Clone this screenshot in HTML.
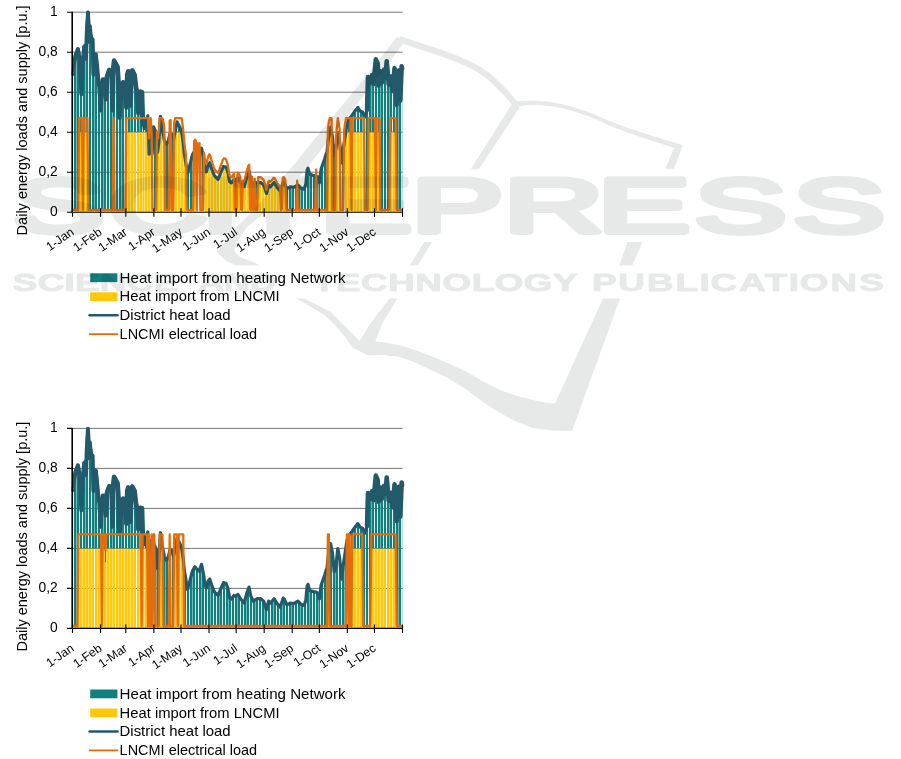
<!DOCTYPE html>
<html lang="en"><head><meta charset="utf-8"><title>Daily energy loads and supply</title>
<style>html,body{margin:0;padding:0;background:#fff}svg{display:block}text{font-family:"Liberation Sans",sans-serif;fill:#000}</style></head><body>
<svg width="901" height="759" viewBox="0 0 901 759">
<rect width="901" height="759" fill="#fff"/>
<defs><clipPath id="stripes"><path d="M72.5 0h0.56v759h-0.56zM73.94 0h2.36v759h-2.36zM76.72 0h2.34v759h-2.34zM79.94 0h2.12v759h-2.12zM82.94 0h2.36v759h-2.36zM85.72 0h2.34v759h-2.34zM88.94 0h2.12v759h-2.12zM91.94 0h2.36v759h-2.36zM94.72 0h2.34v759h-2.34zM97.94 0h2.12v759h-2.12zM100.94 0h2.36v759h-2.36zM103.72 0h2.34v759h-2.34zM106.94 0h2.12v759h-2.12zM109.94 0h2.36v759h-2.36zM112.72 0h2.34v759h-2.34zM115.94 0h2.12v759h-2.12zM118.94 0h2.36v759h-2.36zM121.72 0h2.34v759h-2.34zM124.94 0h2.12v759h-2.12zM127.94 0h2.36v759h-2.36zM130.72 0h2.34v759h-2.34zM133.94 0h2.12v759h-2.12zM136.94 0h2.36v759h-2.36zM139.72 0h2.34v759h-2.34zM142.94 0h1.12v759h-1.12zM144.94 0h2.36v759h-2.36zM147.72 0h2.34v759h-2.34zM150.94 0h2.12v759h-2.12zM153.94 0h2.36v759h-2.36zM156.72 0h2.34v759h-2.34zM159.94 0h2.12v759h-2.12zM162.94 0h2.36v759h-2.36zM165.72 0h2.34v759h-2.34zM168.94 0h2.12v759h-2.12zM171.94 0h2.36v759h-2.36zM174.72 0h2.34v759h-2.34zM177.94 0h2.12v759h-2.12zM180.94 0h2.36v759h-2.36zM183.72 0h2.34v759h-2.34zM186.94 0h2.12v759h-2.12zM189.94 0h2.36v759h-2.36zM192.72 0h2.34v759h-2.34zM195.94 0h2.12v759h-2.12zM198.94 0h2.36v759h-2.36zM201.72 0h2.34v759h-2.34zM204.94 0h2.12v759h-2.12zM207.94 0h2.36v759h-2.36zM210.72 0h2.34v759h-2.34zM213.94 0h2.12v759h-2.12zM216.94 0h2.36v759h-2.36zM219.72 0h2.34v759h-2.34zM222.94 0h2.12v759h-2.12zM225.94 0h2.36v759h-2.36zM228.72 0h2.34v759h-2.34zM231.94 0h2.12v759h-2.12zM234.94 0h2.36v759h-2.36zM237.72 0h2.34v759h-2.34zM240.94 0h2.12v759h-2.12zM243.94 0h2.36v759h-2.36zM246.72 0h2.34v759h-2.34zM249.94 0h2.12v759h-2.12zM252.94 0h2.36v759h-2.36zM255.72 0h2.34v759h-2.34zM258.94 0h2.12v759h-2.12zM261.94 0h2.36v759h-2.36zM264.72 0h2.34v759h-2.34zM267.94 0h2.12v759h-2.12zM270.94 0h2.36v759h-2.36zM273.72 0h2.34v759h-2.34zM276.94 0h2.12v759h-2.12zM279.94 0h2.36v759h-2.36zM282.72 0h2.34v759h-2.34zM285.94 0h2.12v759h-2.12zM288.94 0h2.36v759h-2.36zM291.72 0h2.34v759h-2.34zM294.94 0h2.12v759h-2.12zM297.94 0h2.36v759h-2.36zM300.72 0h2.34v759h-2.34zM303.94 0h2.12v759h-2.12zM306.94 0h2.36v759h-2.36zM309.72 0h2.34v759h-2.34zM312.94 0h2.12v759h-2.12zM315.94 0h2.36v759h-2.36zM318.72 0h1.34v759h-1.34zM320.94 0h2.12v759h-2.12zM323.94 0h2.36v759h-2.36zM326.72 0h2.34v759h-2.34zM329.94 0h2.12v759h-2.12zM332.94 0h2.36v759h-2.36zM335.72 0h2.34v759h-2.34zM338.94 0h2.12v759h-2.12zM341.94 0h2.36v759h-2.36zM344.72 0h2.34v759h-2.34zM347.94 0h2.12v759h-2.12zM350.94 0h2.36v759h-2.36zM353.72 0h2.34v759h-2.34zM356.94 0h2.12v759h-2.12zM359.94 0h2.36v759h-2.36zM362.72 0h2.34v759h-2.34zM365.94 0h2.12v759h-2.12zM368.94 0h2.36v759h-2.36zM371.72 0h2.34v759h-2.34zM374.94 0h2.12v759h-2.12zM377.94 0h2.36v759h-2.36zM380.72 0h2.34v759h-2.34zM383.94 0h2.12v759h-2.12zM386.94 0h2.36v759h-2.36zM389.72 0h2.34v759h-2.34zM392.94 0h2.12v759h-2.12zM395.94 0h2.36v759h-2.36zM398.72 0h2.34v759h-2.34zM401.94 0h0.56v759h-0.56z"/></clipPath><clipPath id="stripesY"><path d="M72.5 0h0.5v759h-0.5zM74 0h2.3v759h-2.3zM76.72 0h2.58v759h-2.58zM79.72 0h2.58v759h-2.58zM82.72 0h2.58v759h-2.58zM85.72 0h2.58v759h-2.58zM88.72 0h2.58v759h-2.58zM91.72 0h2.28v759h-2.28zM95 0h2.3v759h-2.3zM97.72 0h2.58v759h-2.58zM100.72 0h2.58v759h-2.58zM103.72 0h2.58v759h-2.58zM106.72 0h2.58v759h-2.58zM109.72 0h2.58v759h-2.58zM112.72 0h2.28v759h-2.28zM116 0h2.3v759h-2.3zM118.72 0h2.58v759h-2.58zM121.72 0h2.58v759h-2.58zM124.72 0h2.58v759h-2.58zM127.72 0h2.58v759h-2.58zM130.72 0h2.58v759h-2.58zM133.72 0h2.28v759h-2.28zM137 0h2.3v759h-2.3zM139.72 0h2.58v759h-2.58zM142.72 0h1.58v759h-1.58zM144.72 0h2.58v759h-2.58zM147.72 0h2.58v759h-2.58zM150.72 0h2.58v759h-2.58zM153.72 0h2.28v759h-2.28zM157 0h2.3v759h-2.3zM159.72 0h2.58v759h-2.58zM162.72 0h2.58v759h-2.58zM165.72 0h2.58v759h-2.58zM168.72 0h2.58v759h-2.58zM171.72 0h2.58v759h-2.58zM174.72 0h2.28v759h-2.28zM178 0h2.3v759h-2.3zM180.72 0h2.58v759h-2.58zM183.72 0h2.58v759h-2.58zM186.72 0h2.58v759h-2.58zM189.72 0h2.58v759h-2.58zM192.72 0h2.58v759h-2.58zM195.72 0h2.28v759h-2.28zM199 0h2.3v759h-2.3zM201.72 0h2.58v759h-2.58zM204.72 0h2.58v759h-2.58zM207.72 0h2.58v759h-2.58zM210.72 0h2.58v759h-2.58zM213.72 0h2.58v759h-2.58zM216.72 0h2.28v759h-2.28zM220 0h2.3v759h-2.3zM222.72 0h2.58v759h-2.58zM225.72 0h2.58v759h-2.58zM228.72 0h2.58v759h-2.58zM231.72 0h2.58v759h-2.58zM234.72 0h2.58v759h-2.58zM237.72 0h2.28v759h-2.28zM241 0h2.3v759h-2.3zM243.72 0h2.58v759h-2.58zM246.72 0h2.58v759h-2.58zM249.72 0h2.58v759h-2.58zM252.72 0h2.58v759h-2.58zM255.72 0h2.58v759h-2.58zM258.72 0h2.28v759h-2.28zM262 0h2.3v759h-2.3zM264.72 0h2.58v759h-2.58zM267.72 0h2.58v759h-2.58zM270.72 0h2.58v759h-2.58zM273.72 0h2.58v759h-2.58zM276.72 0h2.58v759h-2.58zM279.72 0h2.28v759h-2.28zM283 0h2.3v759h-2.3zM285.72 0h2.58v759h-2.58zM288.72 0h2.58v759h-2.58zM291.72 0h2.58v759h-2.58zM294.72 0h2.58v759h-2.58zM297.72 0h2.58v759h-2.58zM300.72 0h2.28v759h-2.28zM304 0h2.3v759h-2.3zM306.72 0h2.58v759h-2.58zM309.72 0h2.58v759h-2.58zM312.72 0h2.58v759h-2.58zM315.72 0h2.58v759h-2.58zM318.72 0h1.58v759h-1.58zM320.72 0h2.28v759h-2.28zM324 0h2.3v759h-2.3zM326.72 0h2.58v759h-2.58zM329.72 0h2.58v759h-2.58zM332.72 0h2.58v759h-2.58zM335.72 0h2.58v759h-2.58zM338.72 0h2.58v759h-2.58zM341.72 0h2.28v759h-2.28zM345 0h2.3v759h-2.3zM347.72 0h2.58v759h-2.58zM350.72 0h2.58v759h-2.58zM353.72 0h2.58v759h-2.58zM356.72 0h2.58v759h-2.58zM359.72 0h2.58v759h-2.58zM362.72 0h2.28v759h-2.28zM366 0h2.3v759h-2.3zM368.72 0h2.58v759h-2.58zM371.72 0h2.58v759h-2.58zM374.72 0h2.58v759h-2.58zM377.72 0h2.58v759h-2.58zM380.72 0h2.58v759h-2.58zM383.72 0h2.28v759h-2.28zM387 0h2.3v759h-2.3zM389.72 0h2.58v759h-2.58zM392.72 0h2.58v759h-2.58zM395.72 0h2.58v759h-2.58zM398.72 0h2.58v759h-2.58zM401.72 0h0.78v759h-0.78z"/></clipPath></defs>
<g>
<line x1="72.5" y1="172.2" x2="402.5" y2="172.2" stroke="#747474" stroke-width="1"/>
<line x1="72.5" y1="132.2" x2="402.5" y2="132.2" stroke="#747474" stroke-width="1"/>
<line x1="72.5" y1="92.2" x2="402.5" y2="92.2" stroke="#747474" stroke-width="1"/>
<line x1="72.5" y1="52.2" x2="402.5" y2="52.2" stroke="#747474" stroke-width="1"/>
<line x1="72.5" y1="12.2" x2="402.5" y2="12.2" stroke="#747474" stroke-width="1"/>
<path clip-path="url(#stripesY)" fill="#ffc90a" d="M72.5 212.2v-2.04h0.92v2.04zM73.4 212.2v-2.04h0.92v2.04zM74.31 212.2v-2.04h0.92v2.04zM75.21 212.2v-2.04h0.92v2.04zM76.12 212.2v-2.04h0.92v2.04zM77.02 212.2v-2.04h0.92v2.04zM77.92 212.2v-2.04h0.92v2.04zM78.83 212.2v-80h0.92v80zM79.73 212.2v-80h0.92v80zM80.64 212.2v-80h0.92v80zM81.54 212.2v-80h0.92v80zM82.45 212.2v-2.04h0.92v2.04zM83.35 212.2v-80h0.92v80zM84.25 212.2v-80h0.92v80zM85.16 212.2v-80h0.92v80zM86.06 212.2v-80h0.92v80zM86.97 212.2v-80h0.92v80zM87.87 212.2v-2.04h0.92v2.04zM88.77 212.2v-2.04h0.92v2.04zM89.68 212.2v-2.04h0.92v2.04zM90.58 212.2v-2.04h0.92v2.04zM91.49 212.2v-2.04h0.92v2.04zM92.39 212.2v-2.04h0.92v2.04zM93.29 212.2v-2.04h0.92v2.04zM94.2 212.2v-2.04h0.92v2.04zM95.1 212.2v-2.04h0.92v2.04zM96.01 212.2v-2.04h0.92v2.04zM96.91 212.2v-2.04h0.92v2.04zM97.82 212.2v-2.04h0.92v2.04zM98.72 212.2v-2.04h0.92v2.04zM99.62 212.2v-2.04h0.92v2.04zM100.53 212.2v-2.04h0.92v2.04zM101.43 212.2v-2.04h0.92v2.04zM102.34 212.2v-2.04h0.92v2.04zM103.24 212.2v-2.04h0.92v2.04zM104.14 212.2v-2.04h0.92v2.04zM105.05 212.2v-2.04h0.92v2.04zM105.95 212.2v-2.04h0.92v2.04zM106.86 212.2v-2.04h0.92v2.04zM107.76 212.2v-2.04h0.92v2.04zM108.66 212.2v-2.04h0.92v2.04zM109.57 212.2v-2.04h0.92v2.04zM110.47 212.2v-2.04h0.92v2.04zM111.38 212.2v-2.04h0.92v2.04zM112.28 212.2v-2.04h0.92v2.04zM113.18 212.2v-80h0.92v80zM114.09 212.2v-2.04h0.92v2.04zM114.99 212.2v-2.04h0.92v2.04zM115.9 212.2v-2.04h0.92v2.04zM116.8 212.2v-2.04h0.92v2.04zM117.71 212.2v-2.04h0.92v2.04zM118.61 212.2v-2.04h0.92v2.04zM119.51 212.2v-2.04h0.92v2.04zM120.42 212.2v-2.04h0.92v2.04zM121.32 212.2v-2.04h0.92v2.04zM122.23 212.2v-2.04h0.92v2.04zM123.13 212.2v-2.04h0.92v2.04zM124.03 212.2v-2.04h0.92v2.04zM124.94 212.2v-2.04h0.92v2.04zM125.84 212.2v-80h0.92v80zM126.75 212.2v-80h0.92v80zM127.65 212.2v-80h0.92v80zM128.55 212.2v-80h0.92v80zM129.46 212.2v-80h0.92v80zM130.36 212.2v-80h0.92v80zM131.27 212.2v-80h0.92v80zM132.17 212.2v-80h0.92v80zM133.08 212.2v-80h0.92v80zM133.98 212.2v-80h0.92v80zM134.88 212.2v-80h0.92v80zM135.79 212.2v-80h0.92v80zM136.69 212.2v-80h0.92v80zM137.6 212.2v-80h0.92v80zM138.5 212.2v-80h0.92v80zM139.4 212.2v-80h0.92v80zM140.31 212.2v-80h0.92v80zM141.21 212.2v-80h0.92v80zM142.12 212.2v-80h0.92v80zM143.02 212.2v-80h0.92v80zM143.92 212.2v-80h0.92v80zM144.83 212.2v-80h0.92v80zM145.73 212.2v-80h0.92v80zM146.64 212.2v-80h0.92v80zM147.54 212.2v-80h0.92v80zM148.45 212.2v-62.5h0.92v62.5zM149.35 212.2v-73.47h0.92v73.47zM150.25 212.2v-80h0.92v80zM151.16 212.2v-67.09h0.92v67.09zM152.06 212.2v-2.04h0.92v2.04zM152.97 212.2v-2.04h0.92v2.04zM153.87 212.2v-2.04h0.92v2.04zM154.77 212.2v-2.04h0.92v2.04zM155.68 212.2v-2.04h0.92v2.04zM156.58 212.2v-68.11h0.92v68.11zM157.49 212.2v-62.59h0.92v62.59zM158.39 212.2v-70.1h0.92v70.1zM159.29 212.2v-80h0.92v80zM160.2 212.2v-80h0.92v80zM161.1 212.2v-80h0.92v80zM162.01 212.2v-80h0.92v80zM162.91 212.2v-77.02h0.92v77.02zM163.82 212.2v-72.2h0.92v72.2zM164.72 212.2v-2.04h0.92v2.04zM165.62 212.2v-2.04h0.92v2.04zM166.53 212.2v-2.04h0.92v2.04zM167.43 212.2v-2.04h0.92v2.04zM168.34 212.2v-2.04h0.92v2.04zM169.24 212.2v-77.61h0.92v77.61zM170.14 212.2v-78.11h0.92v78.11zM171.05 212.2v-2.04h0.92v2.04zM171.95 212.2v-2.04h0.92v2.04zM172.86 212.2v-2.04h0.92v2.04zM173.76 212.2v-76.01h0.92v76.01zM174.66 212.2v-80h0.92v80zM175.57 212.2v-80h0.92v80zM176.47 212.2v-80h0.92v80zM177.38 212.2v-80h0.92v80zM178.28 212.2v-80h0.92v80zM179.18 212.2v-80h0.92v80zM180.09 212.2v-80h0.92v80zM180.99 212.2v-80h0.92v80zM181.9 212.2v-75.43h0.92v75.43zM182.8 212.2v-69.32h0.92v69.32zM183.71 212.2v-60.28h0.92v60.28zM184.61 212.2v-53.68h0.92v53.68zM185.51 212.2v-48.26h0.92v48.26zM186.42 212.2v-2.04h0.92v2.04zM187.32 212.2v-2.04h0.92v2.04zM188.23 212.2v-2.04h0.92v2.04zM189.13 212.2v-2.04h0.92v2.04zM190.03 212.2v-2.04h0.92v2.04zM190.94 212.2v-2.04h0.92v2.04zM191.84 212.2v-2.04h0.92v2.04zM192.75 212.2v-2.04h0.92v2.04zM193.65 212.2v-60.35h0.92v60.35zM194.55 212.2v-61.4h0.92v61.4zM195.46 212.2v-60.27h0.92v60.27zM196.36 212.2v-2.04h0.92v2.04zM197.27 212.2v-58.27h0.92v58.27zM198.17 212.2v-57.67h0.92v57.67zM199.08 212.2v-58.52h0.92v58.52zM199.98 212.2v-2.04h0.92v2.04zM200.88 212.2v-2.04h0.92v2.04zM201.79 212.2v-2.04h0.92v2.04zM202.69 212.2v-2.04h0.92v2.04zM203.6 212.2v-50.43h0.92v50.43zM204.5 212.2v-44.4h0.92v44.4zM205.4 212.2v-41.4h0.92v41.4zM206.31 212.2v-41.58h0.92v41.58zM207.21 212.2v-45.2h0.92v45.2zM208.12 212.2v-47.97h0.92v47.97zM209.02 212.2v-49.1h0.92v49.1zM209.92 212.2v-47.42h0.92v47.42zM210.83 212.2v-44.66h0.92v44.66zM211.73 212.2v-42.04h0.92v42.04zM212.64 212.2v-39.78h0.92v39.78zM213.54 212.2v-37.52h0.92v37.52zM214.45 212.2v-36.06h0.92v36.06zM215.35 212.2v-35.16h0.92v35.16zM216.25 212.2v-34.25h0.92v34.25zM217.16 212.2v-33.35h0.92v33.35zM218.06 212.2v-34.1h0.92v34.1zM218.97 212.2v-36.27h0.92v36.27zM219.87 212.2v-38.44h0.92v38.44zM220.77 212.2v-40.58h0.92v40.58zM221.68 212.2v-42.62h0.92v42.62zM222.58 212.2v-44.65h0.92v44.65zM223.49 212.2v-45.65h0.92v45.65zM224.39 212.2v-45.42h0.92v45.42zM225.29 212.2v-45.19h0.92v45.19zM226.2 212.2v-43.31h0.92v43.31zM227.1 212.2v-40.9h0.92v40.9zM228.01 212.2v-36.72h0.92v36.72zM228.91 212.2v-31.9h0.92v31.9zM229.82 212.2v-30.06h0.92v30.06zM230.72 212.2v-29.46h0.92v29.46zM231.62 212.2v-30.19h0.92v30.19zM232.53 212.2v-31.55h0.92v31.55zM233.43 212.2v-32.9h0.92v32.9zM234.34 212.2v-2.04h0.92v2.04zM235.24 212.2v-2.04h0.92v2.04zM236.14 212.2v-2.04h0.92v2.04zM237.05 212.2v-33.62h0.92v33.62zM237.95 212.2v-33.33h0.92v33.33zM238.86 212.2v-31.75h0.92v31.75zM239.76 212.2v-30.17h0.92v30.17zM240.66 212.2v-2.04h0.92v2.04zM241.57 212.2v-2.04h0.92v2.04zM242.47 212.2v-26.84h0.92v26.84zM243.38 212.2v-25.79h0.92v25.79zM244.28 212.2v-27.56h0.92v27.56zM245.18 212.2v-30.95h0.92v30.95zM246.09 212.2v-34.34h0.92v34.34zM246.99 212.2v-36.89h0.92v36.89zM247.9 212.2v-39.37h0.92v39.37zM248.8 212.2v-40.22h0.92v40.22zM249.71 212.2v-2.04h0.92v2.04zM250.61 212.2v-2.04h0.92v2.04zM251.51 212.2v-29.93h0.92v29.93zM252.42 212.2v-2.04h0.92v2.04zM253.32 212.2v-2.04h0.92v2.04zM254.23 212.2v-28.14h0.92v28.14zM255.13 212.2v-2.04h0.92v2.04zM256.03 212.2v-2.04h0.92v2.04zM256.94 212.2v-2.04h0.92v2.04zM257.84 212.2v-29.68h0.92v29.68zM258.75 212.2v-29.68h0.92v29.68zM259.65 212.2v-29.68h0.92v29.68zM260.55 212.2v-29.38h0.92v29.38zM261.46 212.2v-28.66h0.92v28.66zM262.36 212.2v-27.94h0.92v27.94zM263.27 212.2v-27.16h0.92v27.16zM264.17 212.2v-24.4h0.92v24.4zM265.08 212.2v-21.65h0.92v21.65zM265.98 212.2v-18.9h0.92v18.9zM266.88 212.2v-22.12h0.92v22.12zM267.79 212.2v-25.84h0.92v25.84zM268.69 212.2v-26.67h0.92v26.67zM269.6 212.2v-25.76h0.92v25.76zM270.5 212.2v-26.04h0.92v26.04zM271.4 212.2v-27.09h0.92v27.09zM272.31 212.2v-28.15h0.92v28.15zM273.21 212.2v-29.2h0.92v29.2zM274.12 212.2v-28.88h0.92v28.88zM275.02 212.2v-27.44h0.92v27.44zM275.92 212.2v-25.99h0.92v25.99zM276.83 212.2v-24.6h0.92v24.6zM277.73 212.2v-23.52h0.92v23.52zM278.64 212.2v-22.43h0.92v22.43zM279.54 212.2v-21.35h0.92v21.35zM280.45 212.2v-2.04h0.92v2.04zM281.35 212.2v-2.04h0.92v2.04zM282.25 212.2v-28.71h0.92v28.71zM283.16 212.2v-29.91h0.92v29.91zM284.06 212.2v-28.92h0.92v28.92zM284.97 212.2v-26.89h0.92v26.89zM285.87 212.2v-2.04h0.92v2.04zM286.77 212.2v-2.04h0.92v2.04zM287.68 212.2v-2.04h0.92v2.04zM288.58 212.2v-2.04h0.92v2.04zM289.49 212.2v-2.04h0.92v2.04zM290.39 212.2v-2.04h0.92v2.04zM291.29 212.2v-2.04h0.92v2.04zM292.2 212.2v-2.04h0.92v2.04zM293.1 212.2v-2.04h0.92v2.04zM294.01 212.2v-2.04h0.92v2.04zM294.91 212.2v-2.04h0.92v2.04zM295.82 212.2v-2.04h0.92v2.04zM296.72 212.2v-26.83h0.92v26.83zM297.62 212.2v-2.04h0.92v2.04zM298.53 212.2v-2.04h0.92v2.04zM299.43 212.2v-2.04h0.92v2.04zM300.34 212.2v-2.04h0.92v2.04zM301.24 212.2v-2.04h0.92v2.04zM302.14 212.2v-2.04h0.92v2.04zM303.05 212.2v-2.04h0.92v2.04zM303.95 212.2v-2.04h0.92v2.04zM304.86 212.2v-2.04h0.92v2.04zM305.76 212.2v-2.04h0.92v2.04zM306.66 212.2v-2.04h0.92v2.04zM307.57 212.2v-2.04h0.92v2.04zM308.47 212.2v-2.04h0.92v2.04zM309.38 212.2v-2.04h0.92v2.04zM310.28 212.2v-2.04h0.92v2.04zM311.18 212.2v-2.04h0.92v2.04zM312.09 212.2v-2.04h0.92v2.04zM312.99 212.2v-2.04h0.92v2.04zM313.9 212.2v-2.04h0.92v2.04zM314.8 212.2v-2.04h0.92v2.04zM315.71 212.2v-36.11h0.92v36.11zM316.61 212.2v-2.04h0.92v2.04zM317.51 212.2v-2.04h0.92v2.04zM318.42 212.2v-2.04h0.92v2.04zM319.32 212.2v-2.04h0.92v2.04zM320.23 212.2v-2.04h0.92v2.04zM321.13 212.2v-2.04h0.92v2.04zM322.03 212.2v-2.04h0.92v2.04zM322.94 212.2v-2.04h0.92v2.04zM323.84 212.2v-2.04h0.92v2.04zM324.75 212.2v-2.04h0.92v2.04zM325.65 212.2v-2.04h0.92v2.04zM326.55 212.2v-2.04h0.92v2.04zM327.46 212.2v-68.89h0.92v68.89zM328.36 212.2v-76.76h0.92v76.76zM329.27 212.2v-80h0.92v80zM330.17 212.2v-80h0.92v80zM331.08 212.2v-80h0.92v80zM331.98 212.2v-2.04h0.92v2.04zM332.88 212.2v-2.04h0.92v2.04zM333.79 212.2v-2.04h0.92v2.04zM334.69 212.2v-2.04h0.92v2.04zM335.6 212.2v-64.23h0.92v64.23zM336.5 212.2v-72.06h0.92v72.06zM337.4 212.2v-79.83h0.92v79.83zM338.31 212.2v-75h0.92v75zM339.21 212.2v-70.18h0.92v70.18zM340.12 212.2v-2.04h0.92v2.04zM341.02 212.2v-2.04h0.92v2.04zM341.92 212.2v-2.04h0.92v2.04zM342.83 212.2v-2.04h0.92v2.04zM343.73 212.2v-69.58h0.92v69.58zM344.64 212.2v-75.6h0.92v75.6zM345.54 212.2v-80h0.92v80zM346.45 212.2v-80h0.92v80zM347.35 212.2v-80h0.92v80zM348.25 212.2v-80h0.92v80zM349.16 212.2v-80h0.92v80zM350.06 212.2v-80h0.92v80zM350.97 212.2v-2.04h0.92v2.04zM351.87 212.2v-80h0.92v80zM352.77 212.2v-80h0.92v80zM353.68 212.2v-80h0.92v80zM354.58 212.2v-80h0.92v80zM355.49 212.2v-80h0.92v80zM356.39 212.2v-80h0.92v80zM357.29 212.2v-80h0.92v80zM358.2 212.2v-80h0.92v80zM359.1 212.2v-80h0.92v80zM360.01 212.2v-80h0.92v80zM360.91 212.2v-80h0.92v80zM361.82 212.2v-80h0.92v80zM362.72 212.2v-80h0.92v80zM363.62 212.2v-80h0.92v80zM364.53 212.2v-2.04h0.92v2.04zM365.43 212.2v-2.04h0.92v2.04zM366.34 212.2v-2.04h0.92v2.04zM367.24 212.2v-2.04h0.92v2.04zM368.14 212.2v-80h0.92v80zM369.05 212.2v-80h0.92v80zM369.95 212.2v-80h0.92v80zM370.86 212.2v-80h0.92v80zM371.76 212.2v-80h0.92v80zM372.66 212.2v-80h0.92v80zM373.57 212.2v-80h0.92v80zM374.47 212.2v-80h0.92v80zM375.38 212.2v-2.04h0.92v2.04zM376.28 212.2v-80h0.92v80zM377.18 212.2v-80h0.92v80zM378.09 212.2v-80h0.92v80zM378.99 212.2v-80h0.92v80zM379.9 212.2v-2.04h0.92v2.04zM380.8 212.2v-2.04h0.92v2.04zM381.71 212.2v-2.04h0.92v2.04zM382.61 212.2v-2.04h0.92v2.04zM383.51 212.2v-2.04h0.92v2.04zM384.42 212.2v-2.04h0.92v2.04zM385.32 212.2v-2.04h0.92v2.04zM386.23 212.2v-2.04h0.92v2.04zM387.13 212.2v-2.04h0.92v2.04zM388.03 212.2v-2.04h0.92v2.04zM388.94 212.2v-2.04h0.92v2.04zM389.84 212.2v-80h0.92v80zM390.75 212.2v-80h0.92v80zM391.65 212.2v-80h0.92v80zM392.55 212.2v-80h0.92v80zM393.46 212.2v-80h0.92v80zM394.36 212.2v-80h0.92v80zM395.27 212.2v-80h0.92v80zM396.17 212.2v-2.04h0.92v2.04zM397.08 212.2v-2.04h0.92v2.04zM397.98 212.2v-2.04h0.92v2.04zM398.88 212.2v-2.04h0.92v2.04zM399.79 212.2v-2.04h0.92v2.04zM400.69 212.2v-2.04h0.92v2.04zM401.6 212.2v-2.04h0.92v2.04z"/>
<path clip-path="url(#stripes)" fill="#10807f" d="M72.5 210.16v-135.91h0.92v135.91zM73.4 210.16v-145.13h0.92v145.13zM74.31 210.16v-150.55h0.92v150.55zM75.21 210.16v-155.38h0.92v155.38zM76.12 210.16v-157.64h0.92v157.64zM77.02 210.16v-159.9h0.92v159.9zM77.92 210.16v-158.69h0.92v158.69zM78.83 132.2v-75.87h0.92v75.87zM79.73 132.2v-61.34h0.92v61.34zM80.64 132.2v-43.26h0.92v43.26zM81.54 132.2v-47.04h0.92v47.04zM82.45 210.16v-145.28h0.92v145.28zM83.35 132.2v-81.47h0.92v81.47zM84.25 132.2v-86.02h0.92v86.02zM85.16 132.2v-79.23h0.92v79.23zM86.06 132.2v-91.49h0.92v91.49zM86.97 132.2v-110.71h0.92v110.71zM87.87 210.16v-190.98h0.92v190.98zM88.77 210.16v-172.26h0.92v172.26zM89.68 210.16v-180.76h0.92v180.76zM90.58 210.16v-173.59h0.92v173.59zM91.49 210.16v-171.16h0.92v171.16zM92.39 210.16v-160.31h0.92v160.31zM93.29 210.16v-142.79h0.92v142.79zM94.2 210.16v-156.04h0.92v156.04zM95.1 210.16v-155.7h0.92v155.7zM96.01 210.16v-150.12h0.92v150.12zM96.91 210.16v-141.01h0.92v141.01zM97.82 210.16v-130.58h0.92v130.58zM98.72 210.16v-118.99h0.92v118.99zM99.62 210.16v-106.39h0.92v106.39zM100.53 210.16v-109.83h0.92v109.83zM101.43 210.16v-125.74h0.92v125.74zM102.34 210.16v-130.33h0.92v130.33zM103.24 210.16v-130.4h0.92v130.4zM104.14 210.16v-130.18h0.92v130.18zM105.05 210.16v-122.79h0.92v122.79zM105.95 210.16v-119.26h0.92v119.26zM106.86 210.16v-134.69h0.92v134.69zM107.76 210.16v-137.32h0.92v137.32zM108.66 210.16v-139.79h0.92v139.79zM109.57 210.16v-138.55h0.92v138.55zM110.47 210.16v-136.44h0.92v136.44zM111.38 210.16v-129.95h0.92v129.95zM112.28 210.16v-110.83h0.92v110.83zM113.18 132.2v-68.06h0.92v68.06zM114.09 210.16v-148.75h0.92v148.75zM114.99 210.16v-147.19h0.92v147.19zM115.9 210.16v-145.5h0.92v145.5zM116.8 210.16v-143.74h0.92v143.74zM117.71 210.16v-134.41h0.92v134.41zM118.61 210.16v-108.67h0.92v108.67zM119.51 210.16v-101.73h0.92v101.73zM120.42 210.16v-111.34h0.92v111.34zM121.32 210.16v-117.21h0.92v117.21zM122.23 210.16v-124.26h0.92v124.26zM123.13 210.16v-127.48h0.92v127.48zM124.03 210.16v-126.76h0.92v126.76zM124.94 210.16v-125.68h0.92v125.68zM125.84 132.2v-26.72h0.92v26.72zM126.75 132.2v-57.64h0.92v57.64zM127.65 132.2v-60.6h0.92v60.6zM128.55 132.2v-60.06h0.92v60.06zM129.46 132.2v-57.34h0.92v57.34zM130.36 132.2v-36.07h0.92v36.07zM131.27 132.2v-60.94h0.92v60.94zM132.17 132.2v-61.35h0.92v61.35zM133.08 132.2v-59.54h0.92v59.54zM133.98 132.2v-57.73h0.92v57.73zM134.88 132.2v-51.2h0.92v51.2zM135.79 132.2v-43.83h0.92v43.83zM136.69 132.2v-39.62h0.92v39.62zM137.6 132.2v-25.64h0.92v25.64zM138.5 132.2v-31.49h0.92v31.49zM139.4 132.2v-39.75h0.92v39.75zM140.31 132.2v-40.49h0.92v40.49zM141.21 132.2v-40.21h0.92v40.21zM142.12 132.2v-21.22h0.92v21.22zM143.02 132.2v-9.39h0.92v9.39zM143.92 132.2v-4.41h0.92v4.41zM144.83 132.2v-7.72h0.92v7.72zM145.73 132.2v-10.97h0.92v10.97zM146.64 132.2v-13.98h0.92v13.98zM147.54 132.2v-10.98h0.92v10.98zM150.25 132.2v-4.13h0.92v4.13zM152.06 210.16v-63.79h0.92v63.79zM152.97 210.16v-80.74h0.92v80.74zM153.87 210.16v-81.63h0.92v81.63zM154.77 210.16v-79.49h0.92v79.49zM155.68 210.16v-76.78h0.92v76.78zM159.29 132.2v-5.06h0.92v5.06zM160.2 132.2v-14.09h0.92v14.09zM161.1 132.2v-7.98h0.92v7.98zM162.01 132.2v-1.86h0.92v1.86zM164.72 210.16v-68.22h0.92v68.22zM165.62 210.16v-66.42h0.92v66.42zM166.53 210.16v-66.86h0.92v66.86zM167.43 210.16v-67.46h0.92v67.46zM168.34 210.16v-71.35h0.92v71.35zM171.05 210.16v-76.06h0.92v76.06zM171.95 210.16v-73.48h0.92v73.48zM172.86 210.16v-70.47h0.92v70.47zM174.66 132.2v-0.83h0.92v0.83zM175.57 132.2v-5.16h0.92v5.16zM176.47 132.2v-9.38h0.92v9.38zM177.38 132.2v-8.91h0.92v8.91zM178.28 132.2v-7.1h0.92v7.1zM179.18 132.2v-5.29h0.92v5.29zM180.09 132.2v-3.48h0.92v3.48zM180.99 132.2v-1.46h0.92v1.46zM186.42 210.16v-40.79h0.92v40.79zM187.32 210.16v-37.9h0.92v37.9zM188.23 210.16v-40.91h0.92v40.91zM189.13 210.16v-44.09h0.92v44.09zM190.03 210.16v-47.7h0.92v47.7zM190.94 210.16v-51.32h0.92v51.32zM191.84 210.16v-54.94h0.92v54.94zM192.75 210.16v-56.73h0.92v56.73zM196.36 210.16v-57.1h0.92v57.1zM199.98 210.16v-58.96h0.92v58.96zM200.88 210.16v-61.45h0.92v61.45zM201.79 210.16v-58.55h0.92v58.55zM202.69 210.16v-54.03h0.92v54.03zM234.34 210.16v-30.23h0.92v30.23zM235.24 210.16v-30.49h0.92v30.49zM236.14 210.16v-31.03h0.92v31.03zM240.66 210.16v-26.91h0.92v26.91zM241.57 210.16v-25.85h0.92v25.85zM249.71 210.16v-33.65h0.92v33.65zM250.61 210.16v-29.7h0.92v29.7zM252.42 210.16v-26.08h0.92v26.08zM253.32 210.16v-25.5h0.92v25.5zM255.13 210.16v-26.7h0.92v26.7zM256.03 210.16v-27.31h0.92v27.31zM256.94 210.16v-27.63h0.92v27.63zM280.45 210.16v-21.25h0.92v21.25zM281.35 210.16v-23.96h0.92v23.96zM285.87 210.16v-22.81h0.92v22.81zM286.77 210.16v-21.7h0.92v21.7zM287.68 210.16v-22.15h0.92v22.15zM288.58 210.16v-22.6h0.92v22.6zM289.49 210.16v-23.05h0.92v23.05zM290.39 210.16v-23.3h0.92v23.3zM291.29 210.16v-23.12h0.92v23.12zM292.2 210.16v-22.94h0.92v22.94zM293.1 210.16v-22.76h0.92v22.76zM294.01 210.16v-23.24h0.92v23.24zM294.91 210.16v-23.75h0.92v23.75zM295.82 210.16v-24.27h0.92v24.27zM297.62 210.16v-25h0.92v25zM298.53 210.16v-24.09h0.92v24.09zM299.43 210.16v-23.19h0.92v23.19zM300.34 210.16v-22.29h0.92v22.29zM301.24 210.16v-21.84h0.92v21.84zM302.14 210.16v-21.47h0.92v21.47zM303.05 210.16v-21.11h0.92v21.11zM303.95 210.16v-22.03h0.92v22.03zM304.86 210.16v-24.44h0.92v24.44zM305.76 210.16v-30.34h0.92v30.34zM306.66 210.16v-40.02h0.92v40.02zM307.57 210.16v-42.02h0.92v42.02zM308.47 210.16v-38.41h0.92v38.41zM309.38 210.16v-36.04h0.92v36.04zM310.28 210.16v-35.68h0.92v35.68zM311.18 210.16v-35.32h0.92v35.32zM312.09 210.16v-34.96h0.92v34.96zM312.99 210.16v-34.78h0.92v34.78zM313.9 210.16v-34.6h0.92v34.6zM314.8 210.16v-34.42h0.92v34.42zM316.61 210.16v-33.61h0.92v33.61zM317.51 210.16v-33.16h0.92v33.16zM318.42 210.16v-29.97h0.92v29.97zM319.32 210.16v-30.01h0.92v30.01zM320.23 210.16v-37.66h0.92v37.66zM321.13 210.16v-42.49h0.92v42.49zM322.03 210.16v-45.05h0.92v45.05zM322.94 210.16v-47.61h0.92v47.61zM323.84 210.16v-50.17h0.92v50.17zM324.75 210.16v-53.02h0.92v53.02zM325.65 210.16v-56.15h0.92v56.15zM326.55 210.16v-58.41h0.92v58.41zM329.27 132.2v-0.98h0.92v0.98zM330.17 132.2v-4.28h0.92v4.28zM331.98 210.16v-73.35h0.92v73.35zM332.88 210.16v-63.7h0.92v63.7zM333.79 210.16v-54.82h0.92v54.82zM334.69 210.16v-58.43h0.92v58.43zM340.12 210.16v-58h0.92v58zM341.02 210.16v-47.76h0.92v47.76zM341.92 210.16v-54.19h0.92v54.19zM342.83 210.16v-61.42h0.92v61.42zM345.54 132.2v-1.63h0.92v1.63zM346.45 132.2v-7.66h0.92v7.66zM347.35 132.2v-10.51h0.92v10.51zM348.25 132.2v-12.93h0.92v12.93zM349.16 132.2v-14.05h0.92v14.05zM350.06 132.2v-14.96h0.92v14.96zM350.97 210.16v-93.89h0.92v93.89zM351.87 132.2v-17.29h0.92v17.29zM352.77 132.2v-18.64h0.92v18.64zM353.68 132.2v-19.92h0.92v19.92zM354.58 132.2v-21.12h0.92v21.12zM355.49 132.2v-22.31h0.92v22.31zM356.39 132.2v-23.5h0.92v23.5zM357.29 132.2v-24.7h0.92v24.7zM358.2 132.2v-23.53h0.92v23.53zM359.1 132.2v-22.08h0.92v22.08zM360.01 132.2v-21.01h0.92v21.01zM360.91 132.2v-20.65h0.92v20.65zM361.82 132.2v-20.29h0.92v20.29zM362.72 132.2v-18.6h0.92v18.6zM363.62 132.2v-16.58h0.92v16.58zM364.53 210.16v-93.7h0.92v93.7zM365.43 210.16v-96.6h0.92v96.6zM366.34 210.16v-99.49h0.92v99.49zM367.24 210.16v-122.64h0.92v122.64zM368.14 132.2v-53.38h0.92v53.38zM369.05 132.2v-50.58h0.92v50.58zM369.95 132.2v-51.42h0.92v51.42zM370.86 132.2v-54.38h0.92v54.38zM371.76 132.2v-56.65h0.92v56.65zM372.66 132.2v-50.86h0.92v50.86zM373.57 132.2v-53.54h0.92v53.54zM374.47 132.2v-63.16h0.92v63.16zM375.38 210.16v-150.73h0.92v150.73zM376.28 132.2v-70.72h0.92v70.72zM377.18 132.2v-68.64h0.92v68.64zM378.09 132.2v-48.12h0.92v48.12zM378.99 132.2v-53.22h0.92v53.22zM379.9 210.16v-138.05h0.92v138.05zM380.8 210.16v-132.17h0.92v132.17zM381.71 210.16v-129.38h0.92v129.38zM382.61 210.16v-134.52h0.92v134.52zM383.51 210.16v-139.65h0.92v139.65zM384.42 210.16v-136.38h0.92v136.38zM385.32 210.16v-136.15h0.92v136.15zM386.23 210.16v-148.39h0.92v148.39zM387.13 210.16v-138.98h0.92v138.98zM388.03 210.16v-128.63h0.92v128.63zM388.94 210.16v-128.43h0.92v128.43zM389.84 132.2v-54.36h0.92v54.36zM390.75 132.2v-50.89h0.92v50.89zM391.65 132.2v-43.84h0.92v43.84zM392.55 132.2v-47.38h0.92v47.38zM393.46 132.2v-57.09h0.92v57.09zM394.36 132.2v-59.38h0.92v59.38zM395.27 132.2v-43.06h0.92v43.06zM396.17 210.16v-105.91h0.92v105.91zM397.08 210.16v-119.36h0.92v119.36zM397.98 210.16v-132.81h0.92v132.81zM398.88 210.16v-130.06h0.92v130.06zM399.79 210.16v-110.41h0.92v110.41zM400.69 210.16v-131.05h0.92v131.05zM401.6 210.16v-141.08h0.92v141.08z"/>
<polyline fill="none" stroke="#235a6b" stroke-width="3.2" stroke-linejoin="round" stroke-linecap="round" points="72.95,74.27 73.66,66.19 75.49,55.2 77.94,49.09 79.52,57.64 80.5,77.18 81.36,94.27 82.21,82.06 83.19,57.64 84.16,46.65 85.14,45.8 86,58.86 86.73,33.22 87.95,12.46 88.56,23.45 89.05,41.77 89.78,25.89 90.51,33.22 91.37,38.71 92.59,39.33 93.44,74.73 94.3,53.98 95.89,54.59 97.11,66.19 98.69,84.5 100.54,110.18 101.64,85.64 102.84,79.55 105.15,80.11 106.07,99.11 106.99,76.42 107.92,73.65 109.3,69.87 110.87,73.65 111.7,74.57 112.53,110.18 113.36,66.27 114.1,60.64 115.76,63.5 117.6,67.1 118.62,82.88 119.45,117.56 120.37,101.33 121.29,96.71 123.14,82.32 124.98,83.8 125.54,84.72 126.37,107.41 127.2,74.57 128.21,71.25 129.87,73.1 130.61,105.57 131.35,71.81 132.36,70.33 134.67,74.94 136.05,87.49 137.44,93.95 138.36,112.95 139.28,93.95 140.2,91.55 142.05,92.1 142.94,124.33 143.89,121.62 144.16,128.6 145.99,121.88 147.82,115.78 149.04,154.24 150.51,124.33 152.09,154.24 153.56,126.77 155.15,130.43 156.37,134.09 157.59,152.41 158.81,142.64 160.4,116.39 162.47,130.43 164.3,140.2 166.14,143.86 167.97,142.64 169.8,134.09 171.63,134.09 173.46,140.2 175.29,130.43 177.12,121.88 178.96,125.55 181.4,130.43 183.23,142.64 184.45,154.85 185.67,162.18 187.5,173.17 189.33,167.06 192.39,154.85 194.83,150.58 197.27,153.63 199.1,154.85 201.54,148.13 203.38,157.29 205.21,169.5 206.43,171.94 208.26,164.62 209.73,162.79 211.92,169.5 214.37,175.61 218.03,179.27 221.08,171.94 223.52,166.45 225.96,167.06 227.8,171.94 229.63,181.71 231.46,182.93 233.9,179.27 235,180.08 238.05,178.25 240.49,182.52 244.16,186.8 246.6,177.64 249.04,170.92 250.87,180.08 253.32,184.97 256.98,182.52 260.64,182.52 263.69,184.97 266.5,193.51 268.58,184.97 270.41,186.8 274.07,182.52 277.12,187.41 280.18,191.07 283.23,181.91 284.45,183.13 286.89,188.63 290.56,186.8 293.61,187.41 297.88,184.97 300.93,188.02 303.99,189.24 305.82,184.36 307.04,170.31 308.02,168.12 309.48,173.98 312.53,175.2 315.59,175.81 318.03,177.03 319.49,182.52 321.08,169.09 324.74,158.71 326.33,153.22 326.86,153.1 328.69,136.01 330.53,127.46 332.36,136.01 334.19,155.55 336.02,148.22 337.85,132.35 339.68,142.12 341.51,162.87 343.35,148.22 345.18,136.01 347.01,123.8 348.84,118.92 351.28,116.47 353.72,112.81 357.84,107.38 360.15,111.07 362.45,111.99 364.76,117.16 367.07,109.78 367.99,76.93 369.83,82.65 372.14,75.09 373.52,83.95 375.83,59.41 377.68,63.65 378.6,85.42 380.44,71.4 381.83,82.65 384.13,69.55 385.52,77.49 386.72,61.25 388.75,84.5 390.59,76.57 392.44,90.96 394.56,68.17 396.59,104.79 398.89,70.48 400.28,100.55 401.66,66.33 402.05,69.09"/>
<polyline fill="none" stroke="#235a6b" stroke-width="4.6" stroke-linejoin="round" stroke-linecap="round" points="100.54,110.18 101.64,85.64 102.84,79.55 105.15,80.11 106.07,99.11 106.99,76.42 107.92,73.65 109.3,69.87 110.87,73.65 111.7,74.57 112.53,110.18 113.36,66.27 114.1,60.64 115.76,63.5 117.6,67.1 118.62,82.88 119.45,117.56 120.37,101.33 121.29,96.71 123.14,82.32 124.98,83.8 125.54,84.72 126.37,107.41 127.2,74.57 128.21,71.25 129.87,73.1 130.61,105.57 131.35,71.81 132.36,70.33 134.67,74.94 136.05,87.49 137.44,93.95 138.36,112.95 139.28,93.95 140.2,91.55 142.05,92.1 142.94,124.33"/>
<polyline fill="none" stroke="#235a6b" stroke-width="4.6" stroke-linejoin="round" stroke-linecap="round" points="367.07,109.78 367.99,76.93 369.83,82.65 372.14,75.09 373.52,83.95 375.83,59.41 377.68,63.65 378.6,85.42 380.44,71.4 381.83,82.65 384.13,69.55 385.52,77.49 386.72,61.25 388.75,84.5 390.59,76.57 392.44,90.96 394.56,68.17 396.59,104.79 398.89,70.48 400.28,100.55 401.66,66.33 402.05,69.09"/>
<polyline fill="none" stroke="#235a6b" stroke-width="3.9" stroke-linejoin="round" stroke-linecap="round" points="73.66,66.19 75.49,55.2 77.94,49.09 79.52,57.64 80.5,77.18 81.36,94.27 82.21,82.06 83.19,57.64 84.16,46.65 85.14,45.8 86,58.86 86.73,33.22 87.95,12.46 88.56,23.45 89.05,41.77 89.78,25.89 90.51,33.22 91.37,38.71 92.59,39.33 93.44,74.73 94.3,53.98 95.89,54.59 97.11,66.19 98.69,84.5"/>
<polyline fill="none" stroke="#e46c0a" stroke-width="2.3" stroke-linejoin="round" stroke-linecap="round" points="72.95,209.8 73.86,209.8 74.76,209.8 75.66,209.8 76.57,209.8 77.47,209.8 78.38,209.8 79.28,118.2 80.18,118.2 81.09,118.2 81.99,118.2 82.9,209.8 83.8,118.2 84.71,118.2 85.61,118.2 86.51,118.2 87.42,118.2 88.32,209.8 89.23,209.8 90.13,209.8 91.03,209.8 91.94,209.8 92.84,209.8 93.75,209.8 94.65,209.8 95.55,209.8 96.46,209.8 97.36,209.8 98.27,209.8 99.17,209.8 100.08,209.8 100.98,209.8 101.88,209.8 102.79,209.8 103.69,209.8 104.6,209.8 105.5,209.8 106.4,209.8 107.31,209.8 108.21,209.8 109.12,209.8 110.02,209.8 110.92,209.8 111.83,209.8 112.73,209.8 113.64,118.2 114.54,209.8 115.45,209.8 116.35,209.8 117.25,209.8 118.16,209.8 119.06,209.8 119.97,209.8 120.87,209.8 121.77,209.8 122.68,209.8 123.58,209.8 124.49,209.8 125.39,209.8 126.29,118.2 127.2,118.2 128.1,118.2 129.01,118.2 129.91,118.2 130.82,118.2 131.72,118.2 132.62,118.2 133.53,118.2 134.43,118.2 135.34,118.2 136.24,118.2 137.14,118.2 138.05,118.2 138.95,118.2 139.86,118.2 140.76,118.2 141.66,118.2 142.57,118.2 143.47,118.2 144.38,118.2 145.28,118.2 146.18,118.2 147.09,118.2 147.99,118.2 148.9,138.44 149.8,125.5 150.71,118.2 151.61,133.03 152.51,209.8 153.42,209.8 154.32,209.8 155.23,209.8 156.13,209.8 157.03,131.83 157.94,138.34 158.84,129.48 159.75,118.2 160.65,118.2 161.55,118.2 162.46,118.2 163.36,121.32 164.27,127.01 165.17,209.8 166.08,209.8 166.98,209.8 167.88,209.8 168.79,209.8 169.69,120.62 170.6,120.03 171.5,209.8 172.4,209.8 173.31,209.8 174.21,122.51 175.12,118.2 176.02,118.2 176.92,118.2 177.83,118.2 178.73,118.2 179.64,118.2 180.54,118.2 181.45,118.2 182.35,123.19 183.25,130.4 184.16,141.07 185.06,148.85 185.97,155.25 186.87,209.8 187.77,209.8 188.68,209.8 189.58,209.8 190.49,209.8 191.39,209.8 192.29,209.8 193.2,209.8 194.1,140.98 195.01,139.75 195.91,141.08 196.82,209.8 197.72,143.44 198.62,144.15 199.53,143.15 200.43,209.8 201.34,209.8 202.24,209.8 203.14,209.8 204.05,152.69 204.95,159.81 205.86,163.35 206.76,163.13 207.66,158.86 208.57,155.6 209.47,154.26 210.38,156.24 211.28,159.5 212.18,162.59 213.09,165.26 213.99,167.92 214.9,169.65 215.8,170.72 216.71,171.78 217.61,172.85 218.51,171.97 219.42,169.41 220.32,166.85 221.23,164.31 222.13,161.91 223.03,159.51 223.94,158.34 224.84,158.6 225.75,158.87 226.65,161.09 227.55,163.94 228.46,168.87 229.36,174.56 230.27,176.73 231.17,177.44 232.08,176.57 232.98,174.97 233.88,173.37 234.79,209.8 235.69,209.8 236.6,209.8 237.5,172.53 238.4,172.87 239.31,174.73 240.21,176.6 241.12,209.8 242.02,209.8 242.92,180.53 243.83,181.77 244.73,179.68 245.64,175.68 246.54,171.68 247.45,168.67 248.35,165.74 249.25,164.75 250.16,209.8 251.06,209.8 251.97,176.88 252.87,209.8 253.77,209.8 254.68,178.99 255.58,209.8 256.49,209.8 257.39,209.8 258.29,177.18 259.2,177.18 260.1,177.18 261.01,177.53 261.91,178.38 262.82,179.23 263.72,180.16 264.62,183.4 265.53,186.65 266.43,189.9 267.34,186.1 268.24,181.71 269.14,180.73 270.05,181.8 270.95,181.48 271.86,180.23 272.76,178.99 273.66,177.74 274.57,178.12 275.47,179.83 276.38,181.53 277.28,183.17 278.18,184.45 279.09,185.73 279.99,187.01 280.9,209.8 281.8,209.8 282.71,178.32 283.61,176.91 284.51,178.07 285.42,180.47 286.32,209.8 287.23,209.8 288.13,209.8 289.03,209.8 289.94,209.8 290.84,209.8 291.75,209.8 292.65,209.8 293.55,209.8 294.46,209.8 295.36,209.8 296.27,209.8 297.17,180.54 298.08,209.8 298.98,209.8 299.88,209.8 300.79,209.8 301.69,209.8 302.6,209.8 303.5,209.8 304.4,209.8 305.31,209.8 306.21,209.8 307.12,209.8 308.02,209.8 308.92,209.8 309.83,209.8 310.73,209.8 311.64,209.8 312.54,209.8 313.45,209.8 314.35,209.8 315.25,209.8 316.16,169.6 317.06,209.8 317.97,209.8 318.87,209.8 319.77,209.8 320.68,209.8 321.58,209.8 322.49,209.8 323.39,209.8 324.29,209.8 325.2,209.8 326.1,209.8 327.01,209.8 327.91,130.91 328.82,121.63 329.72,118.2 330.62,118.2 331.53,118.2 332.43,209.8 333.34,209.8 334.24,209.8 335.14,209.8 336.05,136.41 336.95,127.17 337.86,118.2 338.76,123.7 339.66,129.39 340.57,209.8 341.47,209.8 342.38,209.8 343.28,209.8 344.18,130.1 345.09,122.99 345.99,118.2 346.9,118.2 347.8,118.2 348.71,118.2 349.61,118.2 350.51,118.2 351.42,209.8 352.32,118.2 353.23,118.2 354.13,118.2 355.03,118.2 355.94,118.2 356.84,118.2 357.75,118.2 358.65,118.2 359.55,118.2 360.46,118.2 361.36,118.2 362.27,118.2 363.17,118.2 364.08,118.2 364.98,209.8 365.88,209.8 366.79,209.8 367.69,209.8 368.6,118.2 369.5,118.2 370.4,118.2 371.31,118.2 372.21,118.2 373.12,118.2 374.02,118.2 374.92,118.2 375.83,209.8 376.73,118.2 377.64,118.2 378.54,118.2 379.45,118.2 380.35,209.8 381.25,209.8 382.16,209.8 383.06,209.8 383.97,209.8 384.87,209.8 385.77,209.8 386.68,209.8 387.58,209.8 388.49,209.8 389.39,209.8 390.29,118.2 391.2,118.2 392.1,118.2 393.01,118.2 393.91,118.2 394.82,118.2 395.72,118.2 396.62,209.8 397.53,209.8 398.43,209.8 399.34,209.8 400.24,209.8 401.14,209.8 402.05,209.8"/>
<line x1="72.2" y1="11.7" x2="72.2" y2="212.7" stroke="#000" stroke-width="1.6"/>
<line x1="71.5" y1="212.2" x2="402.5" y2="212.2" stroke="#000" stroke-width="1.1"/>
<path d="M67.0 212.2H72.5M67.0 172.2H72.5M67.0 132.2H72.5M67.0 92.2H72.5M67.0 52.2H72.5M67.0 12.2H72.5M72.5 208.2V216.7M100.53 208.2V216.7M125.84 208.2V216.7M153.87 208.2V216.7M180.99 208.2V216.7M209.02 208.2V216.7M236.14 208.2V216.7M264.17 208.2V216.7M292.2 208.2V216.7M319.32 208.2V216.7M347.35 208.2V216.7M374.47 208.2V216.7M402.5 208.2V216.7" stroke="#000" stroke-width="1.1" fill="none"/>
<text x="57.8" y="216.1" font-size="13.8" text-anchor="end">0</text>
<text x="57.8" y="176.1" font-size="13.8" text-anchor="end">0,2</text>
<text x="57.8" y="136.1" font-size="13.8" text-anchor="end">0,4</text>
<text x="57.8" y="96.1" font-size="13.8" text-anchor="end">0,6</text>
<text x="57.8" y="56.1" font-size="13.8" text-anchor="end">0,8</text>
<text x="57.8" y="16.1" font-size="13.8" text-anchor="end">1</text>
<text transform="translate(74.7 233.8) rotate(-35)" font-size="12.2" text-anchor="end">1-Jan</text>
<text transform="translate(102.73 233.8) rotate(-35)" font-size="12.2" text-anchor="end">1-Feb</text>
<text transform="translate(128.04 233.8) rotate(-35)" font-size="12.2" text-anchor="end">1-Mar</text>
<text transform="translate(156.07 233.8) rotate(-35)" font-size="12.2" text-anchor="end">1-Apr</text>
<text transform="translate(183.19 233.8) rotate(-35)" font-size="12.2" text-anchor="end">1-May</text>
<text transform="translate(211.22 233.8) rotate(-35)" font-size="12.2" text-anchor="end">1-Jun</text>
<text transform="translate(238.34 233.8) rotate(-35)" font-size="12.2" text-anchor="end">1-Jul</text>
<text transform="translate(266.37 233.8) rotate(-35)" font-size="12.2" text-anchor="end">1-Aug</text>
<text transform="translate(294.4 233.8) rotate(-35)" font-size="12.2" text-anchor="end">1-Sep</text>
<text transform="translate(321.52 233.8) rotate(-35)" font-size="12.2" text-anchor="end">1-Oct</text>
<text transform="translate(349.55 233.8) rotate(-35)" font-size="12.2" text-anchor="end">1-Nov</text>
<text transform="translate(376.67 233.8) rotate(-35)" font-size="12.2" text-anchor="end">1-Dec</text>
<text transform="translate(26.6 120.4) rotate(-90)" font-size="14.6" text-anchor="middle" textLength="230" lengthAdjust="spacingAndGlyphs">Daily energy loads and supply [p.u.]</text>
<rect x="90.2" y="273.3" width="27.2" height="8.8" fill="#10807f"/>
<rect x="90.2" y="292.3" width="27.2" height="8.8" fill="#ffc90a"/>
<line x1="89.6" y1="315.3" x2="117.5" y2="315.3" stroke="#235a6b" stroke-width="2.6" stroke-linecap="round"/>
<line x1="89.6" y1="334.1" x2="117.5" y2="334.1" stroke="#e46c0a" stroke-width="1.7" stroke-linecap="round"/>
<text x="119.6" y="282.6" font-size="14.6" textLength="226" lengthAdjust="spacingAndGlyphs">Heat import from heating Network</text>
<text x="119.6" y="301.35" font-size="14.6" textLength="160" lengthAdjust="spacingAndGlyphs">Heat import from LNCMI</text>
<text x="119.6" y="320.1" font-size="14.6" textLength="111" lengthAdjust="spacingAndGlyphs">District heat load</text>
<text x="119.6" y="338.85" font-size="14.6" textLength="137.5" lengthAdjust="spacingAndGlyphs">LNCMI electrical load</text>
</g>
<g>
<line x1="72.5" y1="588.4" x2="402.5" y2="588.4" stroke="#747474" stroke-width="1"/>
<line x1="72.5" y1="548.4" x2="402.5" y2="548.4" stroke="#747474" stroke-width="1"/>
<line x1="72.5" y1="508.4" x2="402.5" y2="508.4" stroke="#747474" stroke-width="1"/>
<line x1="72.5" y1="468.4" x2="402.5" y2="468.4" stroke="#747474" stroke-width="1"/>
<line x1="72.5" y1="428.4" x2="402.5" y2="428.4" stroke="#747474" stroke-width="1"/>
<path clip-path="url(#stripesY)" fill="#ffc90a" d="M72.5 628.4v-2.04h0.92v2.04zM73.4 628.4v-2.04h0.92v2.04zM74.31 628.4v-2.04h0.92v2.04zM75.21 628.4v-2.04h0.92v2.04zM76.12 628.4v-2.04h0.92v2.04zM77.02 628.4v-2.04h0.92v2.04zM77.92 628.4v-80h0.92v80zM78.83 628.4v-80h0.92v80zM79.73 628.4v-80h0.92v80zM80.64 628.4v-80h0.92v80zM81.54 628.4v-80h0.92v80zM82.45 628.4v-80h0.92v80zM83.35 628.4v-80h0.92v80zM84.25 628.4v-80h0.92v80zM85.16 628.4v-80h0.92v80zM86.06 628.4v-80h0.92v80zM86.97 628.4v-80h0.92v80zM87.87 628.4v-80h0.92v80zM88.77 628.4v-80h0.92v80zM89.68 628.4v-80h0.92v80zM90.58 628.4v-80h0.92v80zM91.49 628.4v-80h0.92v80zM92.39 628.4v-80h0.92v80zM93.29 628.4v-80h0.92v80zM94.2 628.4v-80h0.92v80zM95.1 628.4v-80h0.92v80zM96.01 628.4v-80h0.92v80zM96.91 628.4v-80h0.92v80zM97.82 628.4v-80h0.92v80zM98.72 628.4v-80h0.92v80zM99.62 628.4v-80h0.92v80zM100.53 628.4v-80h0.92v80zM101.43 628.4v-2.04h0.92v2.04zM102.34 628.4v-80h0.92v80zM103.24 628.4v-80h0.92v80zM104.14 628.4v-80h0.92v80zM105.05 628.4v-66.38h0.92v66.38zM105.95 628.4v-80h0.92v80zM106.86 628.4v-80h0.92v80zM107.76 628.4v-80h0.92v80zM108.66 628.4v-80h0.92v80zM109.57 628.4v-80h0.92v80zM110.47 628.4v-80h0.92v80zM111.38 628.4v-80h0.92v80zM112.28 628.4v-80h0.92v80zM113.18 628.4v-80h0.92v80zM114.09 628.4v-80h0.92v80zM114.99 628.4v-80h0.92v80zM115.9 628.4v-80h0.92v80zM116.8 628.4v-80h0.92v80zM117.71 628.4v-80h0.92v80zM118.61 628.4v-80h0.92v80zM119.51 628.4v-80h0.92v80zM120.42 628.4v-80h0.92v80zM121.32 628.4v-80h0.92v80zM122.23 628.4v-80h0.92v80zM123.13 628.4v-80h0.92v80zM124.03 628.4v-80h0.92v80zM124.94 628.4v-80h0.92v80zM125.84 628.4v-80h0.92v80zM126.75 628.4v-80h0.92v80zM127.65 628.4v-80h0.92v80zM128.55 628.4v-80h0.92v80zM129.46 628.4v-80h0.92v80zM130.36 628.4v-80h0.92v80zM131.27 628.4v-80h0.92v80zM132.17 628.4v-80h0.92v80zM133.08 628.4v-80h0.92v80zM133.98 628.4v-80h0.92v80zM134.88 628.4v-80h0.92v80zM135.79 628.4v-80h0.92v80zM136.69 628.4v-80h0.92v80zM137.6 628.4v-80h0.92v80zM138.5 628.4v-80h0.92v80zM139.4 628.4v-80h0.92v80zM140.31 628.4v-80h0.92v80zM141.21 628.4v-2.04h0.92v2.04zM142.12 628.4v-80h0.92v80zM143.02 628.4v-80h0.92v80zM143.92 628.4v-80h0.92v80zM144.83 628.4v-80h0.92v80zM145.73 628.4v-80h0.92v80zM146.64 628.4v-80h0.92v80zM147.54 628.4v-2.04h0.92v2.04zM148.45 628.4v-62.5h0.92v62.5zM149.35 628.4v-2.04h0.92v2.04zM150.25 628.4v-2.04h0.92v2.04zM151.16 628.4v-67.09h0.92v67.09zM152.06 628.4v-2.04h0.92v2.04zM152.97 628.4v-80h0.92v80zM153.87 628.4v-80h0.92v80zM154.77 628.4v-2.04h0.92v2.04zM155.68 628.4v-2.04h0.92v2.04zM156.58 628.4v-2.04h0.92v2.04zM157.49 628.4v-2.04h0.92v2.04zM158.39 628.4v-2.04h0.92v2.04zM159.29 628.4v-80h0.92v80zM160.2 628.4v-80h0.92v80zM161.1 628.4v-80h0.92v80zM162.01 628.4v-80h0.92v80zM162.91 628.4v-2.04h0.92v2.04zM163.82 628.4v-2.04h0.92v2.04zM164.72 628.4v-2.04h0.92v2.04zM165.62 628.4v-2.04h0.92v2.04zM166.53 628.4v-2.04h0.92v2.04zM167.43 628.4v-2.04h0.92v2.04zM168.34 628.4v-2.04h0.92v2.04zM169.24 628.4v-77.61h0.92v77.61zM170.14 628.4v-2.04h0.92v2.04zM171.05 628.4v-2.04h0.92v2.04zM171.95 628.4v-2.04h0.92v2.04zM172.86 628.4v-2.04h0.92v2.04zM173.76 628.4v-76.01h0.92v76.01zM174.66 628.4v-80h0.92v80zM175.57 628.4v-80h0.92v80zM176.47 628.4v-80h0.92v80zM177.38 628.4v-2.04h0.92v2.04zM178.28 628.4v-80h0.92v80zM179.18 628.4v-80h0.92v80zM180.09 628.4v-80h0.92v80zM180.99 628.4v-80h0.92v80zM181.9 628.4v-75.43h0.92v75.43zM182.8 628.4v-69.32h0.92v69.32zM183.71 628.4v-2.04h0.92v2.04zM184.61 628.4v-2.04h0.92v2.04zM185.51 628.4v-2.04h0.92v2.04zM186.42 628.4v-2.04h0.92v2.04zM187.32 628.4v-2.04h0.92v2.04zM188.23 628.4v-2.04h0.92v2.04zM189.13 628.4v-2.04h0.92v2.04zM190.03 628.4v-2.04h0.92v2.04zM190.94 628.4v-2.04h0.92v2.04zM191.84 628.4v-2.04h0.92v2.04zM192.75 628.4v-2.04h0.92v2.04zM193.65 628.4v-2.04h0.92v2.04zM194.55 628.4v-2.04h0.92v2.04zM195.46 628.4v-2.04h0.92v2.04zM196.36 628.4v-2.04h0.92v2.04zM197.27 628.4v-2.04h0.92v2.04zM198.17 628.4v-2.04h0.92v2.04zM199.08 628.4v-2.04h0.92v2.04zM199.98 628.4v-2.04h0.92v2.04zM200.88 628.4v-2.04h0.92v2.04zM201.79 628.4v-2.04h0.92v2.04zM202.69 628.4v-2.04h0.92v2.04zM203.6 628.4v-2.04h0.92v2.04zM204.5 628.4v-2.04h0.92v2.04zM205.4 628.4v-2.04h0.92v2.04zM206.31 628.4v-2.04h0.92v2.04zM207.21 628.4v-2.04h0.92v2.04zM208.12 628.4v-2.04h0.92v2.04zM209.02 628.4v-2.04h0.92v2.04zM209.92 628.4v-2.04h0.92v2.04zM210.83 628.4v-2.04h0.92v2.04zM211.73 628.4v-2.04h0.92v2.04zM212.64 628.4v-2.04h0.92v2.04zM213.54 628.4v-2.04h0.92v2.04zM214.45 628.4v-2.04h0.92v2.04zM215.35 628.4v-2.04h0.92v2.04zM216.25 628.4v-2.04h0.92v2.04zM217.16 628.4v-2.04h0.92v2.04zM218.06 628.4v-2.04h0.92v2.04zM218.97 628.4v-2.04h0.92v2.04zM219.87 628.4v-2.04h0.92v2.04zM220.77 628.4v-2.04h0.92v2.04zM221.68 628.4v-2.04h0.92v2.04zM222.58 628.4v-2.04h0.92v2.04zM223.49 628.4v-2.04h0.92v2.04zM224.39 628.4v-2.04h0.92v2.04zM225.29 628.4v-2.04h0.92v2.04zM226.2 628.4v-2.04h0.92v2.04zM227.1 628.4v-2.04h0.92v2.04zM228.01 628.4v-2.04h0.92v2.04zM228.91 628.4v-2.04h0.92v2.04zM229.82 628.4v-2.04h0.92v2.04zM230.72 628.4v-2.04h0.92v2.04zM231.62 628.4v-2.04h0.92v2.04zM232.53 628.4v-2.04h0.92v2.04zM233.43 628.4v-2.04h0.92v2.04zM234.34 628.4v-2.04h0.92v2.04zM235.24 628.4v-2.04h0.92v2.04zM236.14 628.4v-2.04h0.92v2.04zM237.05 628.4v-2.04h0.92v2.04zM237.95 628.4v-2.04h0.92v2.04zM238.86 628.4v-2.04h0.92v2.04zM239.76 628.4v-2.04h0.92v2.04zM240.66 628.4v-2.04h0.92v2.04zM241.57 628.4v-2.04h0.92v2.04zM242.47 628.4v-2.04h0.92v2.04zM243.38 628.4v-2.04h0.92v2.04zM244.28 628.4v-2.04h0.92v2.04zM245.18 628.4v-2.04h0.92v2.04zM246.09 628.4v-2.04h0.92v2.04zM246.99 628.4v-2.04h0.92v2.04zM247.9 628.4v-2.04h0.92v2.04zM248.8 628.4v-2.04h0.92v2.04zM249.71 628.4v-2.04h0.92v2.04zM250.61 628.4v-2.04h0.92v2.04zM251.51 628.4v-2.04h0.92v2.04zM252.42 628.4v-2.04h0.92v2.04zM253.32 628.4v-2.04h0.92v2.04zM254.23 628.4v-2.04h0.92v2.04zM255.13 628.4v-2.04h0.92v2.04zM256.03 628.4v-2.04h0.92v2.04zM256.94 628.4v-2.04h0.92v2.04zM257.84 628.4v-2.04h0.92v2.04zM258.75 628.4v-2.04h0.92v2.04zM259.65 628.4v-2.04h0.92v2.04zM260.55 628.4v-2.04h0.92v2.04zM261.46 628.4v-2.04h0.92v2.04zM262.36 628.4v-2.04h0.92v2.04zM263.27 628.4v-2.04h0.92v2.04zM264.17 628.4v-2.04h0.92v2.04zM265.08 628.4v-2.04h0.92v2.04zM265.98 628.4v-2.04h0.92v2.04zM266.88 628.4v-2.04h0.92v2.04zM267.79 628.4v-2.04h0.92v2.04zM268.69 628.4v-2.04h0.92v2.04zM269.6 628.4v-2.04h0.92v2.04zM270.5 628.4v-2.04h0.92v2.04zM271.4 628.4v-2.04h0.92v2.04zM272.31 628.4v-2.04h0.92v2.04zM273.21 628.4v-2.04h0.92v2.04zM274.12 628.4v-2.04h0.92v2.04zM275.02 628.4v-2.04h0.92v2.04zM275.92 628.4v-2.04h0.92v2.04zM276.83 628.4v-2.04h0.92v2.04zM277.73 628.4v-2.04h0.92v2.04zM278.64 628.4v-2.04h0.92v2.04zM279.54 628.4v-2.04h0.92v2.04zM280.45 628.4v-2.04h0.92v2.04zM281.35 628.4v-2.04h0.92v2.04zM282.25 628.4v-2.04h0.92v2.04zM283.16 628.4v-2.04h0.92v2.04zM284.06 628.4v-2.04h0.92v2.04zM284.97 628.4v-2.04h0.92v2.04zM285.87 628.4v-2.04h0.92v2.04zM286.77 628.4v-2.04h0.92v2.04zM287.68 628.4v-2.04h0.92v2.04zM288.58 628.4v-2.04h0.92v2.04zM289.49 628.4v-2.04h0.92v2.04zM290.39 628.4v-2.04h0.92v2.04zM291.29 628.4v-2.04h0.92v2.04zM292.2 628.4v-2.04h0.92v2.04zM293.1 628.4v-2.04h0.92v2.04zM294.01 628.4v-2.04h0.92v2.04zM294.91 628.4v-2.04h0.92v2.04zM295.82 628.4v-2.04h0.92v2.04zM296.72 628.4v-2.04h0.92v2.04zM297.62 628.4v-2.04h0.92v2.04zM298.53 628.4v-2.04h0.92v2.04zM299.43 628.4v-2.04h0.92v2.04zM300.34 628.4v-2.04h0.92v2.04zM301.24 628.4v-2.04h0.92v2.04zM302.14 628.4v-2.04h0.92v2.04zM303.05 628.4v-2.04h0.92v2.04zM303.95 628.4v-2.04h0.92v2.04zM304.86 628.4v-2.04h0.92v2.04zM305.76 628.4v-2.04h0.92v2.04zM306.66 628.4v-2.04h0.92v2.04zM307.57 628.4v-2.04h0.92v2.04zM308.47 628.4v-2.04h0.92v2.04zM309.38 628.4v-2.04h0.92v2.04zM310.28 628.4v-2.04h0.92v2.04zM311.18 628.4v-2.04h0.92v2.04zM312.09 628.4v-2.04h0.92v2.04zM312.99 628.4v-2.04h0.92v2.04zM313.9 628.4v-2.04h0.92v2.04zM314.8 628.4v-2.04h0.92v2.04zM315.71 628.4v-2.04h0.92v2.04zM316.61 628.4v-2.04h0.92v2.04zM317.51 628.4v-2.04h0.92v2.04zM318.42 628.4v-2.04h0.92v2.04zM319.32 628.4v-2.04h0.92v2.04zM320.23 628.4v-2.04h0.92v2.04zM321.13 628.4v-2.04h0.92v2.04zM322.03 628.4v-2.04h0.92v2.04zM322.94 628.4v-2.04h0.92v2.04zM323.84 628.4v-2.04h0.92v2.04zM324.75 628.4v-2.04h0.92v2.04zM325.65 628.4v-2.04h0.92v2.04zM326.55 628.4v-2.04h0.92v2.04zM327.46 628.4v-68.89h0.92v68.89zM328.36 628.4v-76.76h0.92v76.76zM329.27 628.4v-2.04h0.92v2.04zM330.17 628.4v-2.04h0.92v2.04zM331.08 628.4v-2.04h0.92v2.04zM331.98 628.4v-2.04h0.92v2.04zM332.88 628.4v-2.04h0.92v2.04zM333.79 628.4v-2.04h0.92v2.04zM334.69 628.4v-2.04h0.92v2.04zM335.6 628.4v-2.04h0.92v2.04zM336.5 628.4v-2.04h0.92v2.04zM337.4 628.4v-2.04h0.92v2.04zM338.31 628.4v-2.04h0.92v2.04zM339.21 628.4v-2.04h0.92v2.04zM340.12 628.4v-2.04h0.92v2.04zM341.02 628.4v-2.04h0.92v2.04zM341.92 628.4v-2.04h0.92v2.04zM342.83 628.4v-2.04h0.92v2.04zM343.73 628.4v-2.04h0.92v2.04zM344.64 628.4v-2.04h0.92v2.04zM345.54 628.4v-2.04h0.92v2.04zM346.45 628.4v-80h0.92v80zM347.35 628.4v-80h0.92v80zM348.25 628.4v-2.04h0.92v2.04zM349.16 628.4v-80h0.92v80zM350.06 628.4v-2.04h0.92v2.04zM350.97 628.4v-2.04h0.92v2.04zM351.87 628.4v-80h0.92v80zM352.77 628.4v-80h0.92v80zM353.68 628.4v-80h0.92v80zM354.58 628.4v-80h0.92v80zM355.49 628.4v-80h0.92v80zM356.39 628.4v-80h0.92v80zM357.29 628.4v-80h0.92v80zM358.2 628.4v-80h0.92v80zM359.1 628.4v-80h0.92v80zM360.01 628.4v-80h0.92v80zM360.91 628.4v-80h0.92v80zM361.82 628.4v-80h0.92v80zM362.72 628.4v-2.04h0.92v2.04zM363.62 628.4v-2.04h0.92v2.04zM364.53 628.4v-2.04h0.92v2.04zM365.43 628.4v-2.04h0.92v2.04zM366.34 628.4v-2.04h0.92v2.04zM367.24 628.4v-2.04h0.92v2.04zM368.14 628.4v-2.04h0.92v2.04zM369.05 628.4v-2.04h0.92v2.04zM369.95 628.4v-2.04h0.92v2.04zM370.86 628.4v-80h0.92v80zM371.76 628.4v-80h0.92v80zM372.66 628.4v-80h0.92v80zM373.57 628.4v-80h0.92v80zM374.47 628.4v-80h0.92v80zM375.38 628.4v-80h0.92v80zM376.28 628.4v-80h0.92v80zM377.18 628.4v-80h0.92v80zM378.09 628.4v-80h0.92v80zM378.99 628.4v-80h0.92v80zM379.9 628.4v-80h0.92v80zM380.8 628.4v-80h0.92v80zM381.71 628.4v-80h0.92v80zM382.61 628.4v-80h0.92v80zM383.51 628.4v-80h0.92v80zM384.42 628.4v-80h0.92v80zM385.32 628.4v-80h0.92v80zM386.23 628.4v-80h0.92v80zM387.13 628.4v-80h0.92v80zM388.03 628.4v-80h0.92v80zM388.94 628.4v-80h0.92v80zM389.84 628.4v-80h0.92v80zM390.75 628.4v-80h0.92v80zM391.65 628.4v-80h0.92v80zM392.55 628.4v-80h0.92v80zM393.46 628.4v-80h0.92v80zM394.36 628.4v-80h0.92v80zM395.27 628.4v-80h0.92v80zM396.17 628.4v-2.04h0.92v2.04zM397.08 628.4v-2.04h0.92v2.04zM397.98 628.4v-2.04h0.92v2.04zM398.88 628.4v-2.04h0.92v2.04zM399.79 628.4v-2.04h0.92v2.04zM400.69 628.4v-2.04h0.92v2.04zM401.6 628.4v-2.04h0.92v2.04z"/>
<path clip-path="url(#stripes)" fill="#10807f" d="M72.5 626.36v-135.91h0.92v135.91zM73.4 626.36v-145.13h0.92v145.13zM74.31 626.36v-150.55h0.92v150.55zM75.21 626.36v-155.38h0.92v155.38zM76.12 626.36v-157.64h0.92v157.64zM77.02 626.36v-159.9h0.92v159.9zM77.92 548.4v-80.74h0.92v80.74zM78.83 548.4v-75.87h0.92v75.87zM79.73 548.4v-61.34h0.92v61.34zM80.64 548.4v-43.26h0.92v43.26zM81.54 548.4v-47.04h0.92v47.04zM82.45 548.4v-67.32h0.92v67.32zM83.35 548.4v-81.47h0.92v81.47zM84.25 548.4v-86.02h0.92v86.02zM85.16 548.4v-79.23h0.92v79.23zM86.06 548.4v-91.49h0.92v91.49zM86.97 548.4v-110.71h0.92v110.71zM87.87 548.4v-113.02h0.92v113.02zM88.77 548.4v-94.3h0.92v94.3zM89.68 548.4v-102.81h0.92v102.81zM90.58 548.4v-95.63h0.92v95.63zM91.49 548.4v-93.2h0.92v93.2zM92.39 548.4v-82.35h0.92v82.35zM93.29 548.4v-64.83h0.92v64.83zM94.2 548.4v-78.09h0.92v78.09zM95.1 548.4v-77.74h0.92v77.74zM96.01 548.4v-72.16h0.92v72.16zM96.91 548.4v-63.05h0.92v63.05zM97.82 548.4v-52.62h0.92v52.62zM98.72 548.4v-41.04h0.92v41.04zM99.62 548.4v-28.43h0.92v28.43zM100.53 548.4v-31.87h0.92v31.87zM101.43 626.36v-125.74h0.92v125.74zM102.34 548.4v-52.37h0.92v52.37zM103.24 548.4v-52.44h0.92v52.44zM104.14 548.4v-52.22h0.92v52.22zM105.05 562.02v-58.45h0.92v58.45zM105.95 548.4v-41.3h0.92v41.3zM106.86 548.4v-56.73h0.92v56.73zM107.76 548.4v-59.36h0.92v59.36zM108.66 548.4v-61.83h0.92v61.83zM109.57 548.4v-60.59h0.92v60.59zM110.47 548.4v-58.49h0.92v58.49zM111.38 548.4v-51.99h0.92v51.99zM112.28 548.4v-32.87h0.92v32.87zM113.18 548.4v-68.06h0.92v68.06zM114.09 548.4v-70.79h0.92v70.79zM114.99 548.4v-69.23h0.92v69.23zM115.9 548.4v-67.54h0.92v67.54zM116.8 548.4v-65.78h0.92v65.78zM117.71 548.4v-56.46h0.92v56.46zM118.61 548.4v-30.72h0.92v30.72zM119.51 548.4v-23.78h0.92v23.78zM120.42 548.4v-33.38h0.92v33.38zM121.32 548.4v-39.25h0.92v39.25zM122.23 548.4v-46.3h0.92v46.3zM123.13 548.4v-49.52h0.92v49.52zM124.03 548.4v-48.8h0.92v48.8zM124.94 548.4v-47.72h0.92v47.72zM125.84 548.4v-26.72h0.92v26.72zM126.75 548.4v-57.64h0.92v57.64zM127.65 548.4v-60.6h0.92v60.6zM128.55 548.4v-60.06h0.92v60.06zM129.46 548.4v-57.34h0.92v57.34zM130.36 548.4v-36.07h0.92v36.07zM131.27 548.4v-60.94h0.92v60.94zM132.17 548.4v-61.35h0.92v61.35zM133.08 548.4v-59.54h0.92v59.54zM133.98 548.4v-57.73h0.92v57.73zM134.88 548.4v-51.2h0.92v51.2zM135.79 548.4v-43.83h0.92v43.83zM136.69 548.4v-39.62h0.92v39.62zM137.6 548.4v-25.64h0.92v25.64zM138.5 548.4v-31.49h0.92v31.49zM139.4 548.4v-39.75h0.92v39.75zM140.31 548.4v-40.49h0.92v40.49zM141.21 626.36v-118.17h0.92v118.17zM142.12 548.4v-21.22h0.92v21.22zM143.02 548.4v-9.39h0.92v9.39zM143.92 548.4v-4.41h0.92v4.41zM144.83 548.4v-7.72h0.92v7.72zM145.73 548.4v-10.97h0.92v10.97zM146.64 548.4v-13.98h0.92v13.98zM147.54 626.36v-88.94h0.92v88.94zM149.35 626.36v-71.43h0.92v71.43zM150.25 626.36v-82.09h0.92v82.09zM152.06 626.36v-63.79h0.92v63.79zM152.97 548.4v-2.78h0.92v2.78zM153.87 548.4v-3.67h0.92v3.67zM154.77 626.36v-79.49h0.92v79.49zM155.68 626.36v-76.78h0.92v76.78zM156.58 626.36v-66.06h0.92v66.06zM157.49 626.36v-60.55h0.92v60.55zM158.39 626.36v-68.06h0.92v68.06zM159.29 548.4v-5.06h0.92v5.06zM160.2 548.4v-14.09h0.92v14.09zM161.1 548.4v-7.98h0.92v7.98zM162.01 548.4v-1.86h0.92v1.86zM162.91 626.36v-74.98h0.92v74.98zM163.82 626.36v-70.16h0.92v70.16zM164.72 626.36v-68.22h0.92v68.22zM165.62 626.36v-66.42h0.92v66.42zM166.53 626.36v-66.86h0.92v66.86zM167.43 626.36v-67.46h0.92v67.46zM168.34 626.36v-71.35h0.92v71.35zM170.14 626.36v-76.06h0.92v76.06zM171.05 626.36v-76.06h0.92v76.06zM171.95 626.36v-73.48h0.92v73.48zM172.86 626.36v-70.47h0.92v70.47zM174.66 548.4v-0.83h0.92v0.83zM175.57 548.4v-5.16h0.92v5.16zM176.47 548.4v-9.38h0.92v9.38zM177.38 626.36v-86.87h0.92v86.87zM178.28 548.4v-7.1h0.92v7.1zM179.18 548.4v-5.29h0.92v5.29zM180.09 548.4v-3.48h0.92v3.48zM180.99 548.4v-1.46h0.92v1.46zM183.71 626.36v-58.24h0.92v58.24zM184.61 626.36v-51.64h0.92v51.64zM185.51 626.36v-46.22h0.92v46.22zM186.42 626.36v-40.79h0.92v40.79zM187.32 626.36v-37.9h0.92v37.9zM188.23 626.36v-40.91h0.92v40.91zM189.13 626.36v-44.09h0.92v44.09zM190.03 626.36v-47.7h0.92v47.7zM190.94 626.36v-51.32h0.92v51.32zM191.84 626.36v-54.94h0.92v54.94zM192.75 626.36v-56.73h0.92v56.73zM193.65 626.36v-58.31h0.92v58.31zM194.55 626.36v-59.36h0.92v59.36zM195.46 626.36v-58.23h0.92v58.23zM196.36 626.36v-57.1h0.92v57.1zM197.27 626.36v-56.23h0.92v56.23zM198.17 626.36v-55.63h0.92v55.63zM199.08 626.36v-56.48h0.92v56.48zM199.98 626.36v-58.96h0.92v58.96zM200.88 626.36v-61.45h0.92v61.45zM201.79 626.36v-58.55h0.92v58.55zM202.69 626.36v-54.03h0.92v54.03zM203.6 626.36v-48.39h0.92v48.39zM204.5 626.36v-42.36h0.92v42.36zM205.4 626.36v-39.36h0.92v39.36zM206.31 626.36v-39.54h0.92v39.54zM207.21 626.36v-43.16h0.92v43.16zM208.12 626.36v-45.92h0.92v45.92zM209.02 626.36v-47.06h0.92v47.06zM209.92 626.36v-45.38h0.92v45.38zM210.83 626.36v-42.62h0.92v42.62zM211.73 626.36v-40h0.92v40zM212.64 626.36v-37.74h0.92v37.74zM213.54 626.36v-35.48h0.92v35.48zM214.45 626.36v-34.02h0.92v34.02zM215.35 626.36v-33.11h0.92v33.11zM216.25 626.36v-32.21h0.92v32.21zM217.16 626.36v-31.31h0.92v31.31zM218.06 626.36v-32.05h0.92v32.05zM218.97 626.36v-34.22h0.92v34.22zM219.87 626.36v-36.39h0.92v36.39zM220.77 626.36v-38.54h0.92v38.54zM221.68 626.36v-40.57h0.92v40.57zM222.58 626.36v-42.61h0.92v42.61zM223.49 626.36v-43.6h0.92v43.6zM224.39 626.36v-43.38h0.92v43.38zM225.29 626.36v-43.15h0.92v43.15zM226.2 626.36v-41.27h0.92v41.27zM227.1 626.36v-38.86h0.92v38.86zM228.01 626.36v-34.68h0.92v34.68zM228.91 626.36v-29.86h0.92v29.86zM229.82 626.36v-28.02h0.92v28.02zM230.72 626.36v-27.42h0.92v27.42zM231.62 626.36v-28.15h0.92v28.15zM232.53 626.36v-29.5h0.92v29.5zM233.43 626.36v-30.86h0.92v30.86zM234.34 626.36v-30.23h0.92v30.23zM235.24 626.36v-30.49h0.92v30.49zM236.14 626.36v-31.03h0.92v31.03zM237.05 626.36v-31.58h0.92v31.58zM237.95 626.36v-31.29h0.92v31.29zM238.86 626.36v-29.71h0.92v29.71zM239.76 626.36v-28.13h0.92v28.13zM240.66 626.36v-26.91h0.92v26.91zM241.57 626.36v-25.85h0.92v25.85zM242.47 626.36v-24.8h0.92v24.8zM243.38 626.36v-23.74h0.92v23.74zM244.28 626.36v-25.52h0.92v25.52zM245.18 626.36v-28.91h0.92v28.91zM246.09 626.36v-32.3h0.92v32.3zM246.99 626.36v-34.84h0.92v34.84zM247.9 626.36v-37.33h0.92v37.33zM248.8 626.36v-38.17h0.92v38.17zM249.71 626.36v-33.65h0.92v33.65zM250.61 626.36v-29.7h0.92v29.7zM251.51 626.36v-27.89h0.92v27.89zM252.42 626.36v-26.08h0.92v26.08zM253.32 626.36v-25.5h0.92v25.5zM254.23 626.36v-26.1h0.92v26.1zM255.13 626.36v-26.7h0.92v26.7zM256.03 626.36v-27.31h0.92v27.31zM256.94 626.36v-27.63h0.92v27.63zM257.84 626.36v-27.63h0.92v27.63zM258.75 626.36v-27.63h0.92v27.63zM259.65 626.36v-27.63h0.92v27.63zM260.55 626.36v-27.34h0.92v27.34zM261.46 626.36v-26.62h0.92v26.62zM262.36 626.36v-25.89h0.92v25.89zM263.27 626.36v-25.11h0.92v25.11zM264.17 626.36v-22.36h0.92v22.36zM265.08 626.36v-19.61h0.92v19.61zM265.98 626.36v-16.86h0.92v16.86zM266.88 626.36v-20.08h0.92v20.08zM267.79 626.36v-23.8h0.92v23.8zM268.69 626.36v-24.63h0.92v24.63zM269.6 626.36v-23.72h0.92v23.72zM270.5 626.36v-23.99h0.92v23.99zM271.4 626.36v-25.05h0.92v25.05zM272.31 626.36v-26.1h0.92v26.1zM273.21 626.36v-27.16h0.92v27.16zM274.12 626.36v-26.84h0.92v26.84zM275.02 626.36v-25.39h0.92v25.39zM275.92 626.36v-23.95h0.92v23.95zM276.83 626.36v-22.56h0.92v22.56zM277.73 626.36v-21.48h0.92v21.48zM278.64 626.36v-20.39h0.92v20.39zM279.54 626.36v-19.31h0.92v19.31zM280.45 626.36v-21.25h0.92v21.25zM281.35 626.36v-23.96h0.92v23.96zM282.25 626.36v-26.67h0.92v26.67zM283.16 626.36v-27.86h0.92v27.86zM284.06 626.36v-26.88h0.92v26.88zM284.97 626.36v-24.85h0.92v24.85zM285.87 626.36v-22.81h0.92v22.81zM286.77 626.36v-21.7h0.92v21.7zM287.68 626.36v-22.15h0.92v22.15zM288.58 626.36v-22.6h0.92v22.6zM289.49 626.36v-23.05h0.92v23.05zM290.39 626.36v-23.3h0.92v23.3zM291.29 626.36v-23.12h0.92v23.12zM292.2 626.36v-22.94h0.92v22.94zM293.1 626.36v-22.76h0.92v22.76zM294.01 626.36v-23.24h0.92v23.24zM294.91 626.36v-23.75h0.92v23.75zM295.82 626.36v-24.27h0.92v24.27zM296.72 626.36v-24.79h0.92v24.79zM297.62 626.36v-25h0.92v25zM298.53 626.36v-24.09h0.92v24.09zM299.43 626.36v-23.19h0.92v23.19zM300.34 626.36v-22.29h0.92v22.29zM301.24 626.36v-21.84h0.92v21.84zM302.14 626.36v-21.47h0.92v21.47zM303.05 626.36v-21.11h0.92v21.11zM303.95 626.36v-22.03h0.92v22.03zM304.86 626.36v-24.44h0.92v24.44zM305.76 626.36v-30.34h0.92v30.34zM306.66 626.36v-40.02h0.92v40.02zM307.57 626.36v-42.02h0.92v42.02zM308.47 626.36v-38.41h0.92v38.41zM309.38 626.36v-36.04h0.92v36.04zM310.28 626.36v-35.68h0.92v35.68zM311.18 626.36v-35.32h0.92v35.32zM312.09 626.36v-34.96h0.92v34.96zM312.99 626.36v-34.78h0.92v34.78zM313.9 626.36v-34.6h0.92v34.6zM314.8 626.36v-34.42h0.92v34.42zM315.71 626.36v-34.06h0.92v34.06zM316.61 626.36v-33.61h0.92v33.61zM317.51 626.36v-33.16h0.92v33.16zM318.42 626.36v-29.97h0.92v29.97zM319.32 626.36v-30.01h0.92v30.01zM320.23 626.36v-37.66h0.92v37.66zM321.13 626.36v-42.49h0.92v42.49zM322.03 626.36v-45.05h0.92v45.05zM322.94 626.36v-47.61h0.92v47.61zM323.84 626.36v-50.17h0.92v50.17zM324.75 626.36v-53.02h0.92v53.02zM325.65 626.36v-56.15h0.92v56.15zM326.55 626.36v-58.41h0.92v58.41zM329.27 626.36v-78.93h0.92v78.93zM330.17 626.36v-82.24h0.92v82.24zM331.08 626.36v-78.02h0.92v78.02zM331.98 626.36v-73.35h0.92v73.35zM332.88 626.36v-63.7h0.92v63.7zM333.79 626.36v-54.82h0.92v54.82zM334.69 626.36v-58.43h0.92v58.43zM335.6 626.36v-62.18h0.92v62.18zM336.5 626.36v-70.02h0.92v70.02zM337.4 626.36v-77.78h0.92v77.78zM338.31 626.36v-72.96h0.92v72.96zM339.21 626.36v-68.14h0.92v68.14zM340.12 626.36v-58h0.92v58zM341.02 626.36v-47.76h0.92v47.76zM341.92 626.36v-54.19h0.92v54.19zM342.83 626.36v-61.42h0.92v61.42zM343.73 626.36v-67.53h0.92v67.53zM344.64 626.36v-73.56h0.92v73.56zM345.54 626.36v-79.59h0.92v79.59zM346.45 548.4v-7.66h0.92v7.66zM347.35 548.4v-10.51h0.92v10.51zM348.25 626.36v-90.88h0.92v90.88zM349.16 548.4v-14.05h0.92v14.05zM350.06 626.36v-92.92h0.92v92.92zM350.97 626.36v-93.89h0.92v93.89zM351.87 548.4v-17.29h0.92v17.29zM352.77 548.4v-18.64h0.92v18.64zM353.68 548.4v-19.92h0.92v19.92zM354.58 548.4v-21.12h0.92v21.12zM355.49 548.4v-22.31h0.92v22.31zM356.39 548.4v-23.5h0.92v23.5zM357.29 548.4v-24.7h0.92v24.7zM358.2 548.4v-23.53h0.92v23.53zM359.1 548.4v-22.08h0.92v22.08zM360.01 548.4v-21.01h0.92v21.01zM360.91 548.4v-20.65h0.92v20.65zM361.82 548.4v-20.29h0.92v20.29zM362.72 626.36v-96.56h0.92v96.56zM363.62 626.36v-94.54h0.92v94.54zM364.53 626.36v-93.7h0.92v93.7zM365.43 626.36v-96.6h0.92v96.6zM366.34 626.36v-99.49h0.92v99.49zM367.24 626.36v-122.64h0.92v122.64zM368.14 626.36v-131.34h0.92v131.34zM369.05 626.36v-128.54h0.92v128.54zM369.95 626.36v-129.37h0.92v129.37zM370.86 548.4v-54.38h0.92v54.38zM371.76 548.4v-56.65h0.92v56.65zM372.66 548.4v-50.86h0.92v50.86zM373.57 548.4v-53.54h0.92v53.54zM374.47 548.4v-63.16h0.92v63.16zM375.38 548.4v-72.78h0.92v72.78zM376.28 548.4v-70.72h0.92v70.72zM377.18 548.4v-68.64h0.92v68.64zM378.09 548.4v-48.12h0.92v48.12zM378.99 548.4v-53.22h0.92v53.22zM379.9 548.4v-60.09h0.92v60.09zM380.8 548.4v-54.21h0.92v54.21zM381.71 548.4v-51.43h0.92v51.43zM382.61 548.4v-56.56h0.92v56.56zM383.51 548.4v-61.7h0.92v61.7zM384.42 548.4v-58.42h0.92v58.42zM385.32 548.4v-58.2h0.92v58.2zM386.23 548.4v-70.44h0.92v70.44zM387.13 548.4v-61.02h0.92v61.02zM388.03 548.4v-50.67h0.92v50.67zM388.94 548.4v-50.47h0.92v50.47zM389.84 548.4v-54.36h0.92v54.36zM390.75 548.4v-50.89h0.92v50.89zM391.65 548.4v-43.84h0.92v43.84zM392.55 548.4v-47.38h0.92v47.38zM393.46 548.4v-57.09h0.92v57.09zM394.36 548.4v-59.38h0.92v59.38zM395.27 548.4v-43.06h0.92v43.06zM396.17 626.36v-105.91h0.92v105.91zM397.08 626.36v-119.36h0.92v119.36zM397.98 626.36v-132.81h0.92v132.81zM398.88 626.36v-130.06h0.92v130.06zM399.79 626.36v-110.41h0.92v110.41zM400.69 626.36v-131.05h0.92v131.05zM401.6 626.36v-141.08h0.92v141.08z"/>
<polyline fill="none" stroke="#235a6b" stroke-width="3.2" stroke-linejoin="round" stroke-linecap="round" points="72.95,490.47 73.66,482.39 75.49,471.4 77.94,465.29 79.52,473.84 80.5,493.38 81.36,510.47 82.21,498.26 83.19,473.84 84.16,462.85 85.14,462 86,475.06 86.73,449.42 87.95,428.66 88.56,439.65 89.05,457.97 89.78,442.09 90.51,449.42 91.37,454.91 92.59,455.53 93.44,490.93 94.3,470.18 95.89,470.79 97.11,482.39 98.69,500.7 100.54,526.38 101.64,501.84 102.84,495.75 105.15,496.31 106.07,515.31 106.99,492.62 107.92,489.85 109.3,486.07 110.87,489.85 111.7,490.77 112.53,526.38 113.36,482.47 114.1,476.84 115.76,479.7 117.6,483.3 118.62,499.08 119.45,533.76 120.37,517.53 121.29,512.91 123.14,498.52 124.98,500 125.54,500.92 126.37,523.61 127.2,490.77 128.21,487.45 129.87,489.3 130.61,521.77 131.35,488.01 132.36,486.53 134.67,491.14 136.05,503.69 137.44,510.15 138.36,529.15 139.28,510.15 140.2,507.75 142.05,508.3 142.94,540.53 143.89,537.82 144.16,544.8 145.99,538.08 147.82,531.98 149.04,570.44 150.51,540.53 152.09,570.44 153.56,542.97 155.15,546.63 156.37,550.29 157.59,568.61 158.81,558.84 160.4,532.59 162.47,546.63 164.3,556.4 166.14,560.06 167.97,558.84 169.8,550.29 171.63,550.29 173.46,556.4 175.29,546.63 177.12,538.08 178.96,541.75 181.4,546.63 183.23,558.84 184.45,571.05 185.67,578.38 187.5,589.37 189.33,583.26 192.39,571.05 194.83,566.78 197.27,569.83 199.1,571.05 201.54,564.33 203.38,573.49 205.21,585.7 206.43,588.14 208.26,580.82 209.73,578.99 211.92,585.7 214.37,591.81 218.03,595.47 221.08,588.14 223.52,582.65 225.96,583.26 227.8,588.14 229.63,597.91 231.46,599.13 233.9,595.47 235,596.28 238.05,594.45 240.49,598.72 244.16,603 246.6,593.84 249.04,587.12 250.87,596.28 253.32,601.17 256.98,598.72 260.64,598.72 263.69,601.17 266.5,609.71 268.58,601.17 270.41,603 274.07,598.72 277.12,603.61 280.18,607.27 283.23,598.11 284.45,599.33 286.89,604.83 290.56,603 293.61,603.61 297.88,601.17 300.93,604.22 303.99,605.44 305.82,600.56 307.04,586.51 308.02,584.32 309.48,590.18 312.53,591.4 315.59,592.01 318.03,593.23 319.49,598.72 321.08,585.29 324.74,574.91 326.33,569.42 326.86,569.3 328.69,552.21 330.53,543.66 332.36,552.21 334.19,571.75 336.02,564.42 337.85,548.55 339.68,558.32 341.51,579.07 343.35,564.42 345.18,552.21 347.01,540 348.84,535.12 351.28,532.67 353.72,529.01 357.84,523.58 360.15,527.27 362.45,528.19 364.76,533.36 367.07,525.98 367.99,493.13 369.83,498.85 372.14,491.29 373.52,500.15 375.83,475.61 377.68,479.85 378.6,501.62 380.44,487.6 381.83,498.85 384.13,485.75 385.52,493.69 386.72,477.45 388.75,500.7 390.59,492.77 392.44,507.16 394.56,484.37 396.59,520.99 398.89,486.68 400.28,516.75 401.66,482.53 402.05,485.29"/>
<polyline fill="none" stroke="#235a6b" stroke-width="4.6" stroke-linejoin="round" stroke-linecap="round" points="100.54,526.38 101.64,501.84 102.84,495.75 105.15,496.31 106.07,515.31 106.99,492.62 107.92,489.85 109.3,486.07 110.87,489.85 111.7,490.77 112.53,526.38 113.36,482.47 114.1,476.84 115.76,479.7 117.6,483.3 118.62,499.08 119.45,533.76 120.37,517.53 121.29,512.91 123.14,498.52 124.98,500 125.54,500.92 126.37,523.61 127.2,490.77 128.21,487.45 129.87,489.3 130.61,521.77 131.35,488.01 132.36,486.53 134.67,491.14 136.05,503.69 137.44,510.15 138.36,529.15 139.28,510.15 140.2,507.75 142.05,508.3 142.94,540.53"/>
<polyline fill="none" stroke="#235a6b" stroke-width="4.6" stroke-linejoin="round" stroke-linecap="round" points="367.07,525.98 367.99,493.13 369.83,498.85 372.14,491.29 373.52,500.15 375.83,475.61 377.68,479.85 378.6,501.62 380.44,487.6 381.83,498.85 384.13,485.75 385.52,493.69 386.72,477.45 388.75,500.7 390.59,492.77 392.44,507.16 394.56,484.37 396.59,520.99 398.89,486.68 400.28,516.75 401.66,482.53 402.05,485.29"/>
<polyline fill="none" stroke="#235a6b" stroke-width="3.9" stroke-linejoin="round" stroke-linecap="round" points="73.66,482.39 75.49,471.4 77.94,465.29 79.52,473.84 80.5,493.38 81.36,510.47 82.21,498.26 83.19,473.84 84.16,462.85 85.14,462 86,475.06 86.73,449.42 87.95,428.66 88.56,439.65 89.05,457.97 89.78,442.09 90.51,449.42 91.37,454.91 92.59,455.53 93.44,490.93 94.3,470.18 95.89,470.79 97.11,482.39 98.69,500.7"/>
<polyline fill="none" stroke="#e46c0a" stroke-width="2.3" stroke-linejoin="round" stroke-linecap="round" points="72.95,626 73.86,626 74.76,626 75.66,626 76.57,626 77.47,626 78.38,534.4 79.28,534.4 80.18,534.4 81.09,534.4 81.99,534.4 82.9,534.4 83.8,534.4 84.71,534.4 85.61,534.4 86.51,534.4 87.42,534.4 88.32,534.4 89.23,534.4 90.13,534.4 91.03,534.4 91.94,534.4 92.84,534.4 93.75,534.4 94.65,534.4 95.55,534.4 96.46,534.4 97.36,534.4 98.27,534.4 99.17,534.4 100.08,534.4 100.98,534.4 101.88,626 102.79,534.4 103.69,534.4 104.6,534.4 105.5,550.4 106.4,534.4 107.31,534.4 108.21,534.4 109.12,534.4 110.02,534.4 110.92,534.4 111.83,534.4 112.73,534.4 113.64,534.4 114.54,534.4 115.45,534.4 116.35,534.4 117.25,534.4 118.16,534.4 119.06,534.4 119.97,534.4 120.87,534.4 121.77,534.4 122.68,534.4 123.58,534.4 124.49,534.4 125.39,534.4 126.29,534.4 127.2,534.4 128.1,534.4 129.01,534.4 129.91,534.4 130.82,534.4 131.72,534.4 132.62,534.4 133.53,534.4 134.43,534.4 135.34,534.4 136.24,534.4 137.14,534.4 138.05,534.4 138.95,534.4 139.86,534.4 140.76,534.4 141.66,626 142.57,534.4 143.47,534.4 144.38,534.4 145.28,534.4 146.18,534.4 147.09,534.4 147.99,626 148.9,534.4 149.8,626 150.71,626 151.61,534.4 152.51,626 153.42,534.4 154.32,534.4 155.23,626 156.13,626 157.03,626 157.94,626 158.84,626 159.75,534.4 160.65,534.4 161.55,534.4 162.46,534.4 163.36,626 164.27,626 165.17,626 166.08,626 166.98,626 167.88,626 168.79,626 169.69,534.4 170.6,626 171.5,626 172.4,626 173.31,626 174.21,534.4 175.12,534.4 176.02,534.4 176.92,534.4 177.83,626 178.73,534.4 179.64,534.4 180.54,534.4 181.45,534.4 182.35,534.4 183.25,534.4 184.16,626 185.06,626 185.97,626 186.87,626 187.77,626 188.68,626 189.58,626 190.49,626 191.39,626 192.29,626 193.2,626 194.1,626 195.01,626 195.91,626 196.82,626 197.72,626 198.62,626 199.53,626 200.43,626 201.34,626 202.24,626 203.14,626 204.05,626 204.95,626 205.86,626 206.76,626 207.66,626 208.57,626 209.47,626 210.38,626 211.28,626 212.18,626 213.09,626 213.99,626 214.9,626 215.8,626 216.71,626 217.61,626 218.51,626 219.42,626 220.32,626 221.23,626 222.13,626 223.03,626 223.94,626 224.84,626 225.75,626 226.65,626 227.55,626 228.46,626 229.36,626 230.27,626 231.17,626 232.08,626 232.98,626 233.88,626 234.79,626 235.69,626 236.6,626 237.5,626 238.4,626 239.31,626 240.21,626 241.12,626 242.02,626 242.92,626 243.83,626 244.73,626 245.64,626 246.54,626 247.45,626 248.35,626 249.25,626 250.16,626 251.06,626 251.97,626 252.87,626 253.77,626 254.68,626 255.58,626 256.49,626 257.39,626 258.29,626 259.2,626 260.1,626 261.01,626 261.91,626 262.82,626 263.72,626 264.62,626 265.53,626 266.43,626 267.34,626 268.24,626 269.14,626 270.05,626 270.95,626 271.86,626 272.76,626 273.66,626 274.57,626 275.47,626 276.38,626 277.28,626 278.18,626 279.09,626 279.99,626 280.9,626 281.8,626 282.71,626 283.61,626 284.51,626 285.42,626 286.32,626 287.23,626 288.13,626 289.03,626 289.94,626 290.84,626 291.75,626 292.65,626 293.55,626 294.46,626 295.36,626 296.27,626 297.17,626 298.08,626 298.98,626 299.88,626 300.79,626 301.69,626 302.6,626 303.5,626 304.4,626 305.31,626 306.21,626 307.12,626 308.02,626 308.92,626 309.83,626 310.73,626 311.64,626 312.54,626 313.45,626 314.35,626 315.25,626 316.16,626 317.06,626 317.97,626 318.87,626 319.77,626 320.68,626 321.58,626 322.49,626 323.39,626 324.29,626 325.2,626 326.1,626 327.01,626 327.91,534.4 328.82,534.4 329.72,626 330.62,626 331.53,626 332.43,626 333.34,626 334.24,626 335.14,626 336.05,626 336.95,626 337.86,626 338.76,626 339.66,626 340.57,626 341.47,626 342.38,626 343.28,626 344.18,626 345.09,626 345.99,626 346.9,534.4 347.8,534.4 348.71,626 349.61,534.4 350.51,626 351.42,626 352.32,534.4 353.23,534.4 354.13,534.4 355.03,534.4 355.94,534.4 356.84,534.4 357.75,534.4 358.65,534.4 359.55,534.4 360.46,534.4 361.36,534.4 362.27,534.4 363.17,626 364.08,626 364.98,626 365.88,626 366.79,626 367.69,626 368.6,626 369.5,626 370.4,626 371.31,534.4 372.21,534.4 373.12,534.4 374.02,534.4 374.92,534.4 375.83,534.4 376.73,534.4 377.64,534.4 378.54,534.4 379.45,534.4 380.35,534.4 381.25,534.4 382.16,534.4 383.06,534.4 383.97,534.4 384.87,534.4 385.77,534.4 386.68,534.4 387.58,534.4 388.49,534.4 389.39,534.4 390.29,534.4 391.2,534.4 392.1,534.4 393.01,534.4 393.91,534.4 394.82,534.4 395.72,534.4 396.62,626 397.53,626 398.43,626 399.34,626 400.24,626 401.14,626 402.05,626"/>
<line x1="72.2" y1="427.9" x2="72.2" y2="628.9" stroke="#000" stroke-width="1.6"/>
<line x1="71.5" y1="628.4" x2="402.5" y2="628.4" stroke="#000" stroke-width="1.1"/>
<path d="M67.0 628.4H72.5M67.0 588.4H72.5M67.0 548.4H72.5M67.0 508.4H72.5M67.0 468.4H72.5M67.0 428.4H72.5M72.5 624.4V632.9M100.53 624.4V632.9M125.84 624.4V632.9M153.87 624.4V632.9M180.99 624.4V632.9M209.02 624.4V632.9M236.14 624.4V632.9M264.17 624.4V632.9M292.2 624.4V632.9M319.32 624.4V632.9M347.35 624.4V632.9M374.47 624.4V632.9M402.5 624.4V632.9" stroke="#000" stroke-width="1.1" fill="none"/>
<text x="57.8" y="632.3" font-size="13.8" text-anchor="end">0</text>
<text x="57.8" y="592.3" font-size="13.8" text-anchor="end">0,2</text>
<text x="57.8" y="552.3" font-size="13.8" text-anchor="end">0,4</text>
<text x="57.8" y="512.3" font-size="13.8" text-anchor="end">0,6</text>
<text x="57.8" y="472.3" font-size="13.8" text-anchor="end">0,8</text>
<text x="57.8" y="432.3" font-size="13.8" text-anchor="end">1</text>
<text transform="translate(74.7 650) rotate(-35)" font-size="12.2" text-anchor="end">1-Jan</text>
<text transform="translate(102.73 650) rotate(-35)" font-size="12.2" text-anchor="end">1-Feb</text>
<text transform="translate(128.04 650) rotate(-35)" font-size="12.2" text-anchor="end">1-Mar</text>
<text transform="translate(156.07 650) rotate(-35)" font-size="12.2" text-anchor="end">1-Apr</text>
<text transform="translate(183.19 650) rotate(-35)" font-size="12.2" text-anchor="end">1-May</text>
<text transform="translate(211.22 650) rotate(-35)" font-size="12.2" text-anchor="end">1-Jun</text>
<text transform="translate(238.34 650) rotate(-35)" font-size="12.2" text-anchor="end">1-Jul</text>
<text transform="translate(266.37 650) rotate(-35)" font-size="12.2" text-anchor="end">1-Aug</text>
<text transform="translate(294.4 650) rotate(-35)" font-size="12.2" text-anchor="end">1-Sep</text>
<text transform="translate(321.52 650) rotate(-35)" font-size="12.2" text-anchor="end">1-Oct</text>
<text transform="translate(349.55 650) rotate(-35)" font-size="12.2" text-anchor="end">1-Nov</text>
<text transform="translate(376.67 650) rotate(-35)" font-size="12.2" text-anchor="end">1-Dec</text>
<text transform="translate(26.6 536.6) rotate(-90)" font-size="14.6" text-anchor="middle" textLength="230" lengthAdjust="spacingAndGlyphs">Daily energy loads and supply [p.u.]</text>
<rect x="90.2" y="689.5" width="27.2" height="8.8" fill="#10807f"/>
<rect x="90.2" y="708.5" width="27.2" height="8.8" fill="#ffc90a"/>
<line x1="89.6" y1="731.5" x2="117.5" y2="731.5" stroke="#235a6b" stroke-width="2.6" stroke-linecap="round"/>
<line x1="89.6" y1="750.3" x2="117.5" y2="750.3" stroke="#e46c0a" stroke-width="1.7" stroke-linecap="round"/>
<text x="119.6" y="698.8" font-size="14.6" textLength="226" lengthAdjust="spacingAndGlyphs">Heat import from heating Network</text>
<text x="119.6" y="717.55" font-size="14.6" textLength="160" lengthAdjust="spacingAndGlyphs">Heat import from LNCMI</text>
<text x="119.6" y="736.3" font-size="14.6" textLength="111" lengthAdjust="spacingAndGlyphs">District heat load</text>
<text x="119.6" y="755.05" font-size="14.6" textLength="137.5" lengthAdjust="spacingAndGlyphs">LNCMI electrical load</text>
</g>
<defs>
<clipPath id="halo"><path d="M0 0H901V168.7H0zM0 242H901V265.5H0zM0 298.5H901V759H0z"/></clipPath>
<clipPath id="halo2"><path d="M0 0H901V265.5H0zM0 298.5H901V759H0z"/></clipPath>
</defs>
<g opacity="0.1" fill="#0b1f1a" stroke="none">
<path d="M397.99 41.93L411.02 46.44L423.43 50.45L439.97 55.92L457.66 62.48L468.62 67.28L477.87 72.54L485.14 77.48L491.1 82.48L497.81 89.19L504.72 96.1L509.62 101.98L514.62 107.98L519.38 104.02L514.38 98.02L509.28 91.9L502.19 84.81L495.3 77.92L488.86 72.52L481.13 67.26L471.38 61.72L459.94 56.72L442.03 50.08L425.37 44.55L412.98 40.56L400.01 36.07Z M514.27 106.79L526.14 105.3L537.91 104.9L549.72 105.98L561.57 108.05L575.45 111.82L588.93 116.38L600.21 121.34L612.93 126.95L629.26 133.12L647.26 139.28L664.25 144.68L680.7 150.08L682.3 145.12L665.75 139.92L648.74 134.72L630.74 128.88L614.47 123.05L601.79 117.66L590.27 112.82L576.55 108.18L562.43 104.35L550.28 102.02L538.09 100.7L525.86 100.7L513.73 101.81Z"/>
<g clip-path="url(#halo2)"><path d="M405 41L376 80L340 125L306 169.5L283 193L263 214L247 227L237 242L234 251L240 257L256 263.3L272 273L290 287L305.7 299.3L330.5 311.8L349 330.4L360 341.3L374 341.3L388 343L402 346L419 351.5L436 358L452 365L467 372L484 382L500 390L517 396L533 400L545 402.5L556 403.5L572 431L553 430.5L533 428L516 421.5L500 413L483 402L467 390L448 378L430 369.5L414 362L399 356.8L383 355L367.8 355.3L352.3 347.5L346 338L339.8 330.4L332 322L324.3 314.9L313 308L302.5 301.8L285 292L265 280L244 268.6L226.6 261.3L216.5 252L225 242L236.5 227L250 214L270 191L290 169.5L326 125L363 80L397 37Z M553 404L557 403L572 430.5L569 430.8Z"/></g>
<g clip-path="url(#halo)"><path d="M520 107L478.3 170L432.2 241.8L417.7 265.8L397.5 298.3L382 324L375 342L359 342L370 324L389.7 298.3L409.8 265.8L424.4 241.8L470.3 170L512 104Z M682.7 145.8L674 168.7L642.7 242L633 263.5L620 298.5L572 431L555 403.5L603 298.5L620 263.5L627.4 242.2L665.3 168.7L673.2 149.7L678 147Z"/></g>
<text transform="translate(0 231.6) scale(1.8 1)" x="7.11 60.28 111.67 131.11 177.78 228.61 280 332.22 385.83 440.56" y="0" font-size="76.5" stroke="#0b1f1a" stroke-width="8.5" stroke-linejoin="round" vector-effect="non-scaling-stroke" style="fill:#0b1f1a;font-family:'Liberation Sans',sans-serif">SCITEPRESS</text>
<text transform="translate(0 290.6) scale(1.5 1)" x="8.53 25.11 43.05 49.96 66.54 84.48 102.43 118 132 149.22 166.44 182.67 208.67 223.97 240.68 258.78 276.87 294.97 314.46 329.76 349.25 368.74 384 394.67 412.24 431.27 450.3 466.39 473.71 492.74 509.81 525.91 533.23 553.73 572.76" y="0" font-size="24.5" font-weight="bold" stroke="#0b1f1a" stroke-width="1.2" stroke-linejoin="round" vector-effect="non-scaling-stroke" style="fill:#0b1f1a;font-family:'Liberation Sans',sans-serif">SCIENCE AND TECHNOLOGY PUBLICATIONS</text>
</g>
</svg>
</body></html>
